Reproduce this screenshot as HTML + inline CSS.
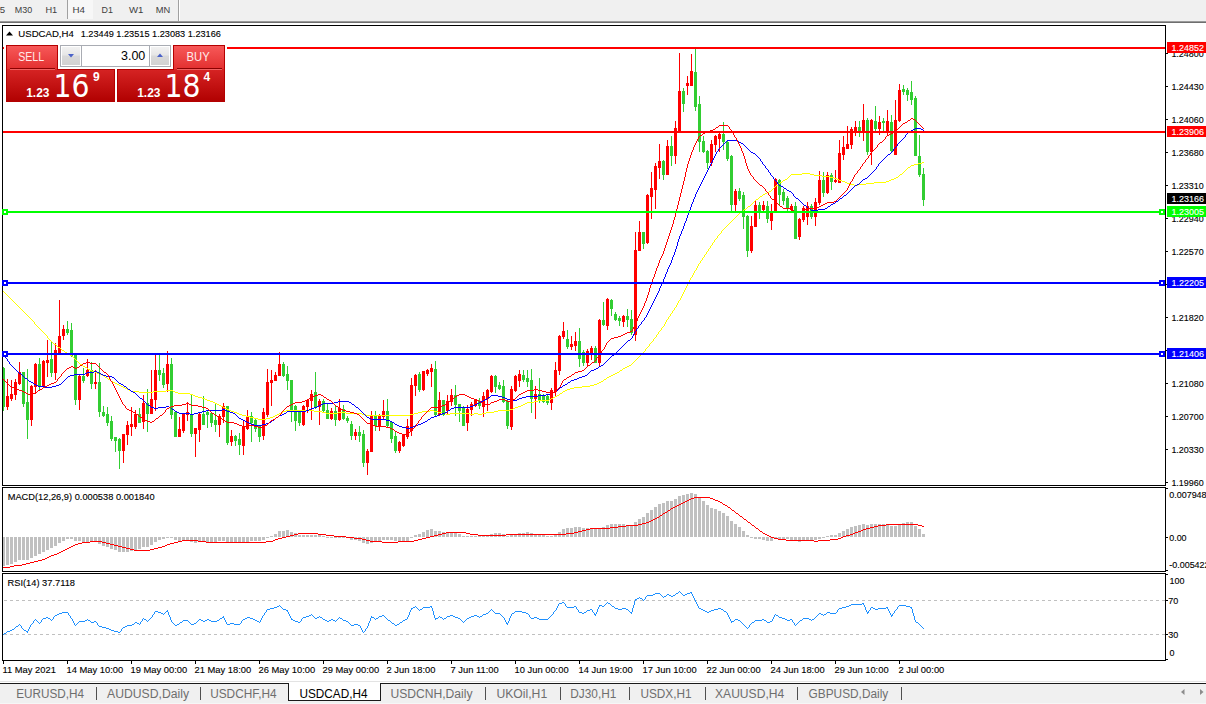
<!DOCTYPE html>
<html><head><meta charset="utf-8"><style>
html,body{margin:0;padding:0}
body{width:1206px;height:704px;overflow:hidden;position:relative;background:#fff;font-family:"Liberation Sans",Arial,sans-serif}
#tb{position:absolute;left:0;top:0;width:1206px;height:21px;background:#f0f0f0}
#tabs{position:absolute;left:0;top:684px;width:1206px;height:20px;background:#f0f0f0}
svg{position:absolute;left:0;top:0}
.ct text{font-size:9.6px;fill:#000;stroke:#000;stroke-width:0.12px}
</style></head><body>
<div id="tb"></div>
<div id="tabs"></div>
<svg width="1206" height="704" viewBox="0 0 1206 704">
<rect x="0" y="21" width="1206" height="1" fill="#9a9a9a"/>
<rect x="0" y="22" width="1206" height="1" fill="#6e6e6e"/>
<rect x="67" y="0" width="1" height="19" fill="#a0a0a0"/>
<rect x="178" y="0" width="1" height="21" fill="#a0a0a0"/>
<rect x="179" y="0" width="1" height="21" fill="#ffffff"/>
<g shape-rendering="crispEdges">
<defs><clipPath id="cm"><rect x="3" y="26" width="1162" height="459"/></clipPath><clipPath id="cd"><rect x="3" y="488" width="1162" height="83"/></clipPath><clipPath id="cr"><rect x="3" y="574" width="1162" height="86"/></clipPath></defs>
<rect x="2.5" y="25.5" width="1163" height="460" fill="none" stroke="#000"/>
<rect x="2.5" y="487.5" width="1163" height="84" fill="none" stroke="#000"/>
<rect x="2.5" y="573.5" width="1163" height="87" fill="none" stroke="#000"/>
<g clip-path="url(#cm)">
<rect x="3" y="367" width="1" height="44" fill="#32cd32"/>
<rect x="2" y="368" width="3" height="39" fill="#32cd32"/>
<rect x="7" y="379" width="1" height="31" fill="#ff0000"/>
<rect x="6" y="396" width="3" height="11" fill="#ff0000"/>
<rect x="11" y="380" width="1" height="21" fill="#ff0000"/>
<rect x="10" y="394" width="3" height="5" fill="#ff0000"/>
<rect x="15" y="379" width="1" height="21" fill="#ff0000"/>
<rect x="14" y="382" width="3" height="13" fill="#ff0000"/>
<rect x="19" y="362" width="1" height="23" fill="#ff0000"/>
<rect x="18" y="372" width="3" height="12" fill="#ff0000"/>
<rect x="23" y="372" width="1" height="35" fill="#32cd32"/>
<rect x="22" y="372" width="3" height="32" fill="#32cd32"/>
<rect x="27" y="369" width="1" height="70" fill="#32cd32"/>
<rect x="26" y="402" width="3" height="18" fill="#32cd32"/>
<rect x="31" y="385" width="1" height="41" fill="#ff0000"/>
<rect x="30" y="386" width="3" height="34" fill="#ff0000"/>
<rect x="35" y="363" width="1" height="31" fill="#ff0000"/>
<rect x="34" y="364" width="3" height="23" fill="#ff0000"/>
<rect x="39" y="358" width="1" height="32" fill="#32cd32"/>
<rect x="38" y="364" width="3" height="23" fill="#32cd32"/>
<rect x="43" y="360" width="1" height="27" fill="#ff0000"/>
<rect x="42" y="361" width="3" height="25" fill="#ff0000"/>
<rect x="47" y="340" width="1" height="37" fill="#ff0000"/>
<rect x="46" y="360" width="3" height="3" fill="#ff0000"/>
<rect x="51" y="342" width="1" height="35" fill="#32cd32"/>
<rect x="50" y="359" width="3" height="14" fill="#32cd32"/>
<rect x="55" y="343" width="1" height="37" fill="#ff0000"/>
<rect x="54" y="350" width="3" height="23" fill="#ff0000"/>
<rect x="59" y="300" width="1" height="55" fill="#ff0000"/>
<rect x="58" y="336" width="3" height="17" fill="#ff0000"/>
<rect x="63" y="325" width="1" height="15" fill="#ff0000"/>
<rect x="62" y="329" width="3" height="7" fill="#ff0000"/>
<rect x="67" y="321" width="1" height="14" fill="#32cd32"/>
<rect x="66" y="329" width="3" height="4" fill="#32cd32"/>
<rect x="71" y="323" width="1" height="34" fill="#32cd32"/>
<rect x="70" y="330" width="3" height="26" fill="#32cd32"/>
<rect x="75" y="354" width="1" height="51" fill="#32cd32"/>
<rect x="74" y="355" width="3" height="45" fill="#32cd32"/>
<rect x="79" y="374" width="1" height="36" fill="#ff0000"/>
<rect x="78" y="376" width="3" height="24" fill="#ff0000"/>
<rect x="83" y="368" width="1" height="15" fill="#32cd32"/>
<rect x="82" y="376" width="3" height="5" fill="#32cd32"/>
<rect x="87" y="359" width="1" height="18" fill="#ff0000"/>
<rect x="86" y="370" width="3" height="6" fill="#ff0000"/>
<rect x="91" y="362" width="1" height="27" fill="#32cd32"/>
<rect x="90" y="370" width="3" height="14" fill="#32cd32"/>
<rect x="95" y="370" width="1" height="19" fill="#ff0000"/>
<rect x="94" y="382" width="3" height="2" fill="#ff0000"/>
<rect x="99" y="363" width="1" height="54" fill="#32cd32"/>
<rect x="98" y="382" width="3" height="30" fill="#32cd32"/>
<rect x="103" y="406" width="1" height="11" fill="#32cd32"/>
<rect x="102" y="412" width="3" height="4" fill="#32cd32"/>
<rect x="107" y="407" width="1" height="19" fill="#32cd32"/>
<rect x="106" y="414" width="3" height="9" fill="#32cd32"/>
<rect x="111" y="416" width="1" height="25" fill="#32cd32"/>
<rect x="110" y="421" width="3" height="18" fill="#32cd32"/>
<rect x="115" y="437" width="1" height="15" fill="#32cd32"/>
<rect x="114" y="437" width="3" height="4" fill="#32cd32"/>
<rect x="119" y="438" width="1" height="31" fill="#32cd32"/>
<rect x="118" y="439" width="3" height="12" fill="#32cd32"/>
<rect x="123" y="434" width="1" height="29" fill="#ff0000"/>
<rect x="122" y="434" width="3" height="17" fill="#ff0000"/>
<rect x="127" y="421" width="1" height="24" fill="#ff0000"/>
<rect x="126" y="425" width="3" height="10" fill="#ff0000"/>
<rect x="131" y="407" width="1" height="29" fill="#ff0000"/>
<rect x="130" y="424" width="3" height="3" fill="#ff0000"/>
<rect x="135" y="410" width="1" height="19" fill="#ff0000"/>
<rect x="134" y="414" width="3" height="13" fill="#ff0000"/>
<rect x="139" y="408" width="1" height="15" fill="#32cd32"/>
<rect x="138" y="414" width="3" height="9" fill="#32cd32"/>
<rect x="143" y="395" width="1" height="34" fill="#ff0000"/>
<rect x="142" y="403" width="3" height="19" fill="#ff0000"/>
<rect x="147" y="389" width="1" height="43" fill="#32cd32"/>
<rect x="146" y="403" width="3" height="11" fill="#32cd32"/>
<rect x="151" y="370" width="1" height="44" fill="#ff0000"/>
<rect x="150" y="399" width="3" height="15" fill="#ff0000"/>
<rect x="155" y="353" width="1" height="58" fill="#ff0000"/>
<rect x="154" y="370" width="3" height="30" fill="#ff0000"/>
<rect x="159" y="355" width="1" height="26" fill="#32cd32"/>
<rect x="158" y="370" width="3" height="5" fill="#32cd32"/>
<rect x="163" y="368" width="1" height="20" fill="#32cd32"/>
<rect x="162" y="373" width="3" height="12" fill="#32cd32"/>
<rect x="167" y="351" width="1" height="41" fill="#ff0000"/>
<rect x="166" y="364" width="3" height="20" fill="#ff0000"/>
<rect x="171" y="358" width="1" height="61" fill="#32cd32"/>
<rect x="170" y="364" width="3" height="51" fill="#32cd32"/>
<rect x="175" y="412" width="1" height="25" fill="#32cd32"/>
<rect x="174" y="412" width="3" height="25" fill="#32cd32"/>
<rect x="179" y="417" width="1" height="20" fill="#ff0000"/>
<rect x="178" y="429" width="3" height="8" fill="#ff0000"/>
<rect x="183" y="414" width="1" height="19" fill="#ff0000"/>
<rect x="182" y="414" width="3" height="17" fill="#ff0000"/>
<rect x="187" y="402" width="1" height="19" fill="#ff0000"/>
<rect x="186" y="412" width="3" height="3" fill="#ff0000"/>
<rect x="191" y="395" width="1" height="42" fill="#32cd32"/>
<rect x="190" y="414" width="3" height="20" fill="#32cd32"/>
<rect x="195" y="428" width="1" height="29" fill="#ff0000"/>
<rect x="194" y="428" width="3" height="6" fill="#ff0000"/>
<rect x="199" y="412" width="1" height="30" fill="#ff0000"/>
<rect x="198" y="414" width="3" height="16" fill="#ff0000"/>
<rect x="203" y="396" width="1" height="29" fill="#32cd32"/>
<rect x="202" y="414" width="3" height="11" fill="#32cd32"/>
<rect x="207" y="410" width="1" height="18" fill="#32cd32"/>
<rect x="206" y="412" width="3" height="3" fill="#32cd32"/>
<rect x="211" y="413" width="1" height="14" fill="#32cd32"/>
<rect x="210" y="413" width="3" height="10" fill="#32cd32"/>
<rect x="215" y="404" width="1" height="28" fill="#32cd32"/>
<rect x="214" y="420" width="3" height="5" fill="#32cd32"/>
<rect x="219" y="414" width="1" height="23" fill="#ff0000"/>
<rect x="218" y="416" width="3" height="9" fill="#ff0000"/>
<rect x="223" y="403" width="1" height="20" fill="#ff0000"/>
<rect x="222" y="406" width="3" height="11" fill="#ff0000"/>
<rect x="227" y="406" width="1" height="39" fill="#32cd32"/>
<rect x="226" y="406" width="3" height="37" fill="#32cd32"/>
<rect x="231" y="430" width="1" height="16" fill="#ff0000"/>
<rect x="230" y="436" width="3" height="6" fill="#ff0000"/>
<rect x="235" y="435" width="1" height="11" fill="#32cd32"/>
<rect x="234" y="436" width="3" height="5" fill="#32cd32"/>
<rect x="239" y="433" width="1" height="22" fill="#32cd32"/>
<rect x="238" y="439" width="3" height="6" fill="#32cd32"/>
<rect x="243" y="421" width="1" height="34" fill="#ff0000"/>
<rect x="242" y="426" width="3" height="20" fill="#ff0000"/>
<rect x="247" y="410" width="1" height="20" fill="#ff0000"/>
<rect x="246" y="416" width="3" height="13" fill="#ff0000"/>
<rect x="251" y="412" width="1" height="30" fill="#32cd32"/>
<rect x="250" y="416" width="3" height="7" fill="#32cd32"/>
<rect x="255" y="418" width="1" height="14" fill="#32cd32"/>
<rect x="254" y="420" width="3" height="9" fill="#32cd32"/>
<rect x="259" y="425" width="1" height="17" fill="#32cd32"/>
<rect x="258" y="426" width="3" height="11" fill="#32cd32"/>
<rect x="263" y="408" width="1" height="32" fill="#ff0000"/>
<rect x="262" y="412" width="3" height="24" fill="#ff0000"/>
<rect x="267" y="369" width="1" height="48" fill="#ff0000"/>
<rect x="266" y="382" width="3" height="33" fill="#ff0000"/>
<rect x="271" y="370" width="1" height="36" fill="#ff0000"/>
<rect x="270" y="380" width="3" height="3" fill="#ff0000"/>
<rect x="275" y="372" width="1" height="9" fill="#ff0000"/>
<rect x="274" y="375" width="3" height="6" fill="#ff0000"/>
<rect x="279" y="352" width="1" height="24" fill="#ff0000"/>
<rect x="278" y="364" width="3" height="12" fill="#ff0000"/>
<rect x="283" y="362" width="1" height="15" fill="#32cd32"/>
<rect x="282" y="364" width="3" height="12" fill="#32cd32"/>
<rect x="287" y="366" width="1" height="24" fill="#32cd32"/>
<rect x="286" y="374" width="3" height="7" fill="#32cd32"/>
<rect x="291" y="380" width="1" height="42" fill="#32cd32"/>
<rect x="290" y="380" width="3" height="31" fill="#32cd32"/>
<rect x="295" y="405" width="1" height="26" fill="#32cd32"/>
<rect x="294" y="406" width="3" height="15" fill="#32cd32"/>
<rect x="299" y="410" width="1" height="16" fill="#32cd32"/>
<rect x="298" y="411" width="3" height="12" fill="#32cd32"/>
<rect x="303" y="405" width="1" height="21" fill="#ff0000"/>
<rect x="302" y="406" width="3" height="19" fill="#ff0000"/>
<rect x="307" y="399" width="1" height="14" fill="#ff0000"/>
<rect x="306" y="400" width="3" height="7" fill="#ff0000"/>
<rect x="311" y="390" width="1" height="30" fill="#ff0000"/>
<rect x="310" y="394" width="3" height="7" fill="#ff0000"/>
<rect x="315" y="372" width="1" height="37" fill="#32cd32"/>
<rect x="314" y="392" width="3" height="15" fill="#32cd32"/>
<rect x="319" y="399" width="1" height="26" fill="#ff0000"/>
<rect x="318" y="401" width="3" height="6" fill="#ff0000"/>
<rect x="323" y="399" width="1" height="14" fill="#32cd32"/>
<rect x="322" y="401" width="3" height="10" fill="#32cd32"/>
<rect x="327" y="404" width="1" height="15" fill="#32cd32"/>
<rect x="326" y="410" width="3" height="9" fill="#32cd32"/>
<rect x="331" y="408" width="1" height="12" fill="#ff0000"/>
<rect x="330" y="411" width="3" height="8" fill="#ff0000"/>
<rect x="335" y="406" width="1" height="20" fill="#32cd32"/>
<rect x="334" y="411" width="3" height="9" fill="#32cd32"/>
<rect x="339" y="399" width="1" height="22" fill="#ff0000"/>
<rect x="338" y="408" width="3" height="12" fill="#ff0000"/>
<rect x="343" y="405" width="1" height="15" fill="#32cd32"/>
<rect x="342" y="409" width="3" height="10" fill="#32cd32"/>
<rect x="347" y="416" width="1" height="7" fill="#32cd32"/>
<rect x="346" y="418" width="3" height="3" fill="#32cd32"/>
<rect x="351" y="421" width="1" height="19" fill="#32cd32"/>
<rect x="350" y="424" width="3" height="12" fill="#32cd32"/>
<rect x="355" y="429" width="1" height="11" fill="#ff0000"/>
<rect x="354" y="432" width="3" height="4" fill="#ff0000"/>
<rect x="359" y="426" width="1" height="16" fill="#32cd32"/>
<rect x="358" y="432" width="3" height="4" fill="#32cd32"/>
<rect x="363" y="430" width="1" height="37" fill="#32cd32"/>
<rect x="362" y="434" width="3" height="29" fill="#32cd32"/>
<rect x="367" y="449" width="1" height="26" fill="#ff0000"/>
<rect x="366" y="451" width="3" height="12" fill="#ff0000"/>
<rect x="371" y="411" width="1" height="41" fill="#ff0000"/>
<rect x="370" y="415" width="3" height="37" fill="#ff0000"/>
<rect x="375" y="411" width="1" height="20" fill="#32cd32"/>
<rect x="374" y="416" width="3" height="10" fill="#32cd32"/>
<rect x="379" y="414" width="1" height="17" fill="#ff0000"/>
<rect x="378" y="416" width="3" height="11" fill="#ff0000"/>
<rect x="383" y="400" width="1" height="19" fill="#ff0000"/>
<rect x="382" y="411" width="3" height="6" fill="#ff0000"/>
<rect x="387" y="399" width="1" height="28" fill="#32cd32"/>
<rect x="386" y="411" width="3" height="15" fill="#32cd32"/>
<rect x="391" y="421" width="1" height="22" fill="#32cd32"/>
<rect x="390" y="422" width="3" height="17" fill="#32cd32"/>
<rect x="395" y="432" width="1" height="21" fill="#32cd32"/>
<rect x="394" y="436" width="3" height="15" fill="#32cd32"/>
<rect x="399" y="441" width="1" height="12" fill="#ff0000"/>
<rect x="398" y="442" width="3" height="9" fill="#ff0000"/>
<rect x="403" y="434" width="1" height="13" fill="#ff0000"/>
<rect x="402" y="435" width="3" height="11" fill="#ff0000"/>
<rect x="407" y="419" width="1" height="20" fill="#ff0000"/>
<rect x="406" y="426" width="3" height="11" fill="#ff0000"/>
<rect x="411" y="378" width="1" height="58" fill="#ff0000"/>
<rect x="410" y="385" width="3" height="46" fill="#ff0000"/>
<rect x="415" y="374" width="1" height="22" fill="#ff0000"/>
<rect x="414" y="375" width="3" height="11" fill="#ff0000"/>
<rect x="419" y="372" width="1" height="20" fill="#32cd32"/>
<rect x="418" y="374" width="3" height="16" fill="#32cd32"/>
<rect x="423" y="371" width="1" height="20" fill="#ff0000"/>
<rect x="422" y="371" width="3" height="19" fill="#ff0000"/>
<rect x="427" y="369" width="1" height="7" fill="#ff0000"/>
<rect x="426" y="370" width="3" height="4" fill="#ff0000"/>
<rect x="431" y="364" width="1" height="23" fill="#ff0000"/>
<rect x="430" y="368" width="3" height="4" fill="#ff0000"/>
<rect x="435" y="361" width="1" height="55" fill="#32cd32"/>
<rect x="434" y="369" width="3" height="46" fill="#32cd32"/>
<rect x="439" y="392" width="1" height="24" fill="#ff0000"/>
<rect x="438" y="400" width="3" height="15" fill="#ff0000"/>
<rect x="443" y="400" width="1" height="16" fill="#32cd32"/>
<rect x="442" y="400" width="3" height="15" fill="#32cd32"/>
<rect x="447" y="395" width="1" height="20" fill="#ff0000"/>
<rect x="446" y="401" width="3" height="10" fill="#ff0000"/>
<rect x="451" y="389" width="1" height="17" fill="#ff0000"/>
<rect x="450" y="395" width="3" height="7" fill="#ff0000"/>
<rect x="455" y="385" width="1" height="31" fill="#32cd32"/>
<rect x="454" y="395" width="3" height="10" fill="#32cd32"/>
<rect x="459" y="404" width="1" height="18" fill="#32cd32"/>
<rect x="458" y="404" width="3" height="7" fill="#32cd32"/>
<rect x="463" y="406" width="1" height="20" fill="#32cd32"/>
<rect x="462" y="408" width="3" height="18" fill="#32cd32"/>
<rect x="467" y="405" width="1" height="26" fill="#ff0000"/>
<rect x="466" y="409" width="3" height="14" fill="#ff0000"/>
<rect x="471" y="402" width="1" height="14" fill="#ff0000"/>
<rect x="470" y="404" width="3" height="6" fill="#ff0000"/>
<rect x="475" y="399" width="1" height="8" fill="#ff0000"/>
<rect x="474" y="400" width="3" height="6" fill="#ff0000"/>
<rect x="479" y="398" width="1" height="11" fill="#32cd32"/>
<rect x="478" y="401" width="3" height="5" fill="#32cd32"/>
<rect x="483" y="392" width="1" height="25" fill="#ff0000"/>
<rect x="482" y="396" width="3" height="11" fill="#ff0000"/>
<rect x="487" y="389" width="1" height="22" fill="#ff0000"/>
<rect x="486" y="390" width="3" height="9" fill="#ff0000"/>
<rect x="491" y="375" width="1" height="18" fill="#ff0000"/>
<rect x="490" y="376" width="3" height="16" fill="#ff0000"/>
<rect x="495" y="375" width="1" height="18" fill="#32cd32"/>
<rect x="494" y="376" width="3" height="11" fill="#32cd32"/>
<rect x="499" y="382" width="1" height="8" fill="#32cd32"/>
<rect x="498" y="385" width="3" height="4" fill="#32cd32"/>
<rect x="503" y="380" width="1" height="23" fill="#32cd32"/>
<rect x="502" y="386" width="3" height="16" fill="#32cd32"/>
<rect x="507" y="400" width="1" height="29" fill="#32cd32"/>
<rect x="506" y="401" width="3" height="25" fill="#32cd32"/>
<rect x="511" y="386" width="1" height="44" fill="#ff0000"/>
<rect x="510" y="389" width="3" height="38" fill="#ff0000"/>
<rect x="515" y="375" width="1" height="17" fill="#ff0000"/>
<rect x="514" y="376" width="3" height="15" fill="#ff0000"/>
<rect x="519" y="370" width="1" height="17" fill="#ff0000"/>
<rect x="518" y="374" width="3" height="7" fill="#ff0000"/>
<rect x="523" y="370" width="1" height="12" fill="#32cd32"/>
<rect x="522" y="375" width="3" height="5" fill="#32cd32"/>
<rect x="527" y="370" width="1" height="17" fill="#32cd32"/>
<rect x="526" y="378" width="3" height="4" fill="#32cd32"/>
<rect x="531" y="369" width="1" height="44" fill="#32cd32"/>
<rect x="530" y="380" width="3" height="19" fill="#32cd32"/>
<rect x="535" y="386" width="1" height="33" fill="#ff0000"/>
<rect x="534" y="394" width="3" height="5" fill="#ff0000"/>
<rect x="539" y="378" width="1" height="25" fill="#32cd32"/>
<rect x="538" y="394" width="3" height="7" fill="#32cd32"/>
<rect x="543" y="394" width="1" height="9" fill="#32cd32"/>
<rect x="542" y="395" width="3" height="7" fill="#32cd32"/>
<rect x="547" y="395" width="1" height="10" fill="#32cd32"/>
<rect x="546" y="396" width="3" height="7" fill="#32cd32"/>
<rect x="551" y="388" width="1" height="22" fill="#ff0000"/>
<rect x="550" y="390" width="3" height="13" fill="#ff0000"/>
<rect x="555" y="362" width="1" height="34" fill="#ff0000"/>
<rect x="554" y="370" width="3" height="22" fill="#ff0000"/>
<rect x="559" y="335" width="1" height="40" fill="#ff0000"/>
<rect x="558" y="336" width="3" height="35" fill="#ff0000"/>
<rect x="563" y="322" width="1" height="17" fill="#ff0000"/>
<rect x="562" y="331" width="3" height="6" fill="#ff0000"/>
<rect x="567" y="330" width="1" height="19" fill="#32cd32"/>
<rect x="566" y="339" width="3" height="8" fill="#32cd32"/>
<rect x="571" y="336" width="1" height="14" fill="#ff0000"/>
<rect x="570" y="344" width="3" height="3" fill="#ff0000"/>
<rect x="575" y="332" width="1" height="19" fill="#ff0000"/>
<rect x="574" y="341" width="3" height="5" fill="#ff0000"/>
<rect x="579" y="328" width="1" height="39" fill="#32cd32"/>
<rect x="578" y="341" width="3" height="18" fill="#32cd32"/>
<rect x="583" y="350" width="1" height="16" fill="#32cd32"/>
<rect x="582" y="352" width="3" height="11" fill="#32cd32"/>
<rect x="587" y="349" width="1" height="17" fill="#ff0000"/>
<rect x="586" y="351" width="3" height="12" fill="#ff0000"/>
<rect x="591" y="346" width="1" height="14" fill="#ff0000"/>
<rect x="590" y="348" width="3" height="5" fill="#ff0000"/>
<rect x="595" y="346" width="1" height="17" fill="#32cd32"/>
<rect x="594" y="348" width="3" height="15" fill="#32cd32"/>
<rect x="599" y="319" width="1" height="47" fill="#ff0000"/>
<rect x="598" y="320" width="3" height="43" fill="#ff0000"/>
<rect x="603" y="302" width="1" height="24" fill="#32cd32"/>
<rect x="602" y="320" width="3" height="5" fill="#32cd32"/>
<rect x="607" y="298" width="1" height="32" fill="#ff0000"/>
<rect x="606" y="299" width="3" height="27" fill="#ff0000"/>
<rect x="611" y="299" width="1" height="17" fill="#32cd32"/>
<rect x="610" y="300" width="3" height="9" fill="#32cd32"/>
<rect x="615" y="312" width="1" height="9" fill="#32cd32"/>
<rect x="614" y="314" width="3" height="6" fill="#32cd32"/>
<rect x="619" y="316" width="1" height="10" fill="#32cd32"/>
<rect x="618" y="318" width="3" height="3" fill="#32cd32"/>
<rect x="623" y="315" width="1" height="12" fill="#ff0000"/>
<rect x="622" y="316" width="3" height="6" fill="#ff0000"/>
<rect x="627" y="309" width="1" height="18" fill="#32cd32"/>
<rect x="626" y="316" width="3" height="4" fill="#32cd32"/>
<rect x="631" y="310" width="1" height="25" fill="#32cd32"/>
<rect x="630" y="319" width="3" height="14" fill="#32cd32"/>
<rect x="635" y="232" width="1" height="109" fill="#ff0000"/>
<rect x="634" y="250" width="3" height="85" fill="#ff0000"/>
<rect x="639" y="221" width="1" height="30" fill="#ff0000"/>
<rect x="638" y="232" width="3" height="19" fill="#ff0000"/>
<rect x="643" y="232" width="1" height="17" fill="#32cd32"/>
<rect x="642" y="232" width="3" height="12" fill="#32cd32"/>
<rect x="647" y="194" width="1" height="50" fill="#ff0000"/>
<rect x="646" y="195" width="3" height="48" fill="#ff0000"/>
<rect x="651" y="172" width="1" height="47" fill="#ff0000"/>
<rect x="650" y="188" width="3" height="9" fill="#ff0000"/>
<rect x="655" y="163" width="1" height="46" fill="#ff0000"/>
<rect x="654" y="166" width="3" height="24" fill="#ff0000"/>
<rect x="659" y="144" width="1" height="35" fill="#ff0000"/>
<rect x="658" y="161" width="3" height="7" fill="#ff0000"/>
<rect x="663" y="160" width="1" height="20" fill="#32cd32"/>
<rect x="662" y="161" width="3" height="14" fill="#32cd32"/>
<rect x="667" y="140" width="1" height="35" fill="#ff0000"/>
<rect x="666" y="146" width="3" height="29" fill="#ff0000"/>
<rect x="671" y="136" width="1" height="30" fill="#32cd32"/>
<rect x="670" y="146" width="3" height="10" fill="#32cd32"/>
<rect x="675" y="121" width="1" height="43" fill="#ff0000"/>
<rect x="674" y="128" width="3" height="28" fill="#ff0000"/>
<rect x="679" y="53" width="1" height="78" fill="#ff0000"/>
<rect x="678" y="91" width="3" height="40" fill="#ff0000"/>
<rect x="683" y="88" width="1" height="24" fill="#32cd32"/>
<rect x="682" y="91" width="3" height="13" fill="#32cd32"/>
<rect x="687" y="76" width="1" height="19" fill="#ff0000"/>
<rect x="686" y="83" width="3" height="3" fill="#ff0000"/>
<rect x="691" y="54" width="1" height="32" fill="#ff0000"/>
<rect x="690" y="71" width="3" height="15" fill="#ff0000"/>
<rect x="695" y="48" width="1" height="63" fill="#32cd32"/>
<rect x="694" y="72" width="3" height="35" fill="#32cd32"/>
<rect x="699" y="96" width="1" height="56" fill="#32cd32"/>
<rect x="698" y="104" width="3" height="38" fill="#32cd32"/>
<rect x="703" y="136" width="1" height="17" fill="#32cd32"/>
<rect x="702" y="141" width="3" height="11" fill="#32cd32"/>
<rect x="707" y="150" width="1" height="19" fill="#32cd32"/>
<rect x="706" y="151" width="3" height="12" fill="#32cd32"/>
<rect x="711" y="140" width="1" height="26" fill="#ff0000"/>
<rect x="710" y="144" width="3" height="19" fill="#ff0000"/>
<rect x="715" y="135" width="1" height="17" fill="#ff0000"/>
<rect x="714" y="136" width="3" height="9" fill="#ff0000"/>
<rect x="719" y="132" width="1" height="20" fill="#ff0000"/>
<rect x="718" y="134" width="3" height="5" fill="#ff0000"/>
<rect x="723" y="122" width="1" height="28" fill="#32cd32"/>
<rect x="722" y="134" width="3" height="8" fill="#32cd32"/>
<rect x="727" y="140" width="1" height="21" fill="#32cd32"/>
<rect x="726" y="142" width="3" height="17" fill="#32cd32"/>
<rect x="731" y="155" width="1" height="58" fill="#32cd32"/>
<rect x="730" y="156" width="3" height="49" fill="#32cd32"/>
<rect x="735" y="189" width="1" height="24" fill="#ff0000"/>
<rect x="734" y="191" width="3" height="14" fill="#ff0000"/>
<rect x="739" y="188" width="1" height="13" fill="#32cd32"/>
<rect x="738" y="191" width="3" height="8" fill="#32cd32"/>
<rect x="743" y="192" width="1" height="37" fill="#32cd32"/>
<rect x="742" y="195" width="3" height="22" fill="#32cd32"/>
<rect x="747" y="215" width="1" height="42" fill="#32cd32"/>
<rect x="746" y="216" width="3" height="35" fill="#32cd32"/>
<rect x="751" y="216" width="1" height="37" fill="#ff0000"/>
<rect x="750" y="226" width="3" height="25" fill="#ff0000"/>
<rect x="755" y="200" width="1" height="27" fill="#ff0000"/>
<rect x="754" y="205" width="3" height="22" fill="#ff0000"/>
<rect x="759" y="202" width="1" height="17" fill="#32cd32"/>
<rect x="758" y="205" width="3" height="6" fill="#32cd32"/>
<rect x="763" y="201" width="1" height="11" fill="#ff0000"/>
<rect x="762" y="205" width="3" height="5" fill="#ff0000"/>
<rect x="767" y="201" width="1" height="22" fill="#32cd32"/>
<rect x="766" y="206" width="3" height="13" fill="#32cd32"/>
<rect x="771" y="204" width="1" height="26" fill="#ff0000"/>
<rect x="770" y="212" width="3" height="9" fill="#ff0000"/>
<rect x="775" y="178" width="1" height="35" fill="#ff0000"/>
<rect x="774" y="179" width="3" height="34" fill="#ff0000"/>
<rect x="779" y="179" width="1" height="27" fill="#32cd32"/>
<rect x="778" y="180" width="3" height="15" fill="#32cd32"/>
<rect x="783" y="189" width="1" height="16" fill="#32cd32"/>
<rect x="782" y="192" width="3" height="9" fill="#32cd32"/>
<rect x="787" y="196" width="1" height="15" fill="#32cd32"/>
<rect x="786" y="198" width="3" height="11" fill="#32cd32"/>
<rect x="791" y="204" width="1" height="7" fill="#ff0000"/>
<rect x="790" y="206" width="3" height="4" fill="#ff0000"/>
<rect x="795" y="202" width="1" height="37" fill="#32cd32"/>
<rect x="794" y="206" width="3" height="33" fill="#32cd32"/>
<rect x="799" y="218" width="1" height="22" fill="#ff0000"/>
<rect x="798" y="219" width="3" height="18" fill="#ff0000"/>
<rect x="803" y="206" width="1" height="16" fill="#ff0000"/>
<rect x="802" y="208" width="3" height="12" fill="#ff0000"/>
<rect x="807" y="202" width="1" height="23" fill="#ff0000"/>
<rect x="806" y="206" width="3" height="11" fill="#ff0000"/>
<rect x="811" y="204" width="1" height="15" fill="#32cd32"/>
<rect x="810" y="206" width="3" height="11" fill="#32cd32"/>
<rect x="815" y="198" width="1" height="28" fill="#ff0000"/>
<rect x="814" y="202" width="3" height="15" fill="#ff0000"/>
<rect x="819" y="171" width="1" height="34" fill="#ff0000"/>
<rect x="818" y="180" width="3" height="23" fill="#ff0000"/>
<rect x="823" y="172" width="1" height="25" fill="#32cd32"/>
<rect x="822" y="180" width="3" height="13" fill="#32cd32"/>
<rect x="827" y="172" width="1" height="22" fill="#ff0000"/>
<rect x="826" y="175" width="3" height="18" fill="#ff0000"/>
<rect x="831" y="173" width="1" height="17" fill="#32cd32"/>
<rect x="830" y="175" width="3" height="7" fill="#32cd32"/>
<rect x="835" y="170" width="1" height="13" fill="#ff0000"/>
<rect x="834" y="180" width="3" height="2" fill="#ff0000"/>
<rect x="839" y="140" width="1" height="43" fill="#ff0000"/>
<rect x="838" y="153" width="3" height="30" fill="#ff0000"/>
<rect x="843" y="136" width="1" height="24" fill="#ff0000"/>
<rect x="842" y="147" width="3" height="8" fill="#ff0000"/>
<rect x="847" y="126" width="1" height="23" fill="#ff0000"/>
<rect x="846" y="144" width="3" height="5" fill="#ff0000"/>
<rect x="851" y="127" width="1" height="22" fill="#ff0000"/>
<rect x="850" y="129" width="3" height="16" fill="#ff0000"/>
<rect x="855" y="121" width="1" height="15" fill="#ff0000"/>
<rect x="854" y="127" width="3" height="4" fill="#ff0000"/>
<rect x="859" y="121" width="1" height="16" fill="#32cd32"/>
<rect x="858" y="127" width="3" height="4" fill="#32cd32"/>
<rect x="863" y="104" width="1" height="37" fill="#ff0000"/>
<rect x="862" y="120" width="3" height="13" fill="#ff0000"/>
<rect x="867" y="118" width="1" height="37" fill="#32cd32"/>
<rect x="866" y="120" width="3" height="32" fill="#32cd32"/>
<rect x="871" y="119" width="1" height="46" fill="#ff0000"/>
<rect x="870" y="120" width="3" height="32" fill="#ff0000"/>
<rect x="875" y="106" width="1" height="26" fill="#32cd32"/>
<rect x="874" y="121" width="3" height="8" fill="#32cd32"/>
<rect x="879" y="116" width="1" height="19" fill="#ff0000"/>
<rect x="878" y="122" width="3" height="7" fill="#ff0000"/>
<rect x="883" y="118" width="1" height="13" fill="#32cd32"/>
<rect x="882" y="121" width="3" height="2" fill="#32cd32"/>
<rect x="887" y="110" width="1" height="26" fill="#ff0000"/>
<rect x="886" y="121" width="3" height="12" fill="#ff0000"/>
<rect x="891" y="115" width="1" height="38" fill="#32cd32"/>
<rect x="890" y="122" width="3" height="29" fill="#32cd32"/>
<rect x="895" y="100" width="1" height="55" fill="#ff0000"/>
<rect x="894" y="120" width="3" height="35" fill="#ff0000"/>
<rect x="899" y="84" width="1" height="38" fill="#ff0000"/>
<rect x="898" y="90" width="3" height="31" fill="#ff0000"/>
<rect x="903" y="85" width="1" height="10" fill="#32cd32"/>
<rect x="902" y="89" width="3" height="3" fill="#32cd32"/>
<rect x="907" y="88" width="1" height="13" fill="#32cd32"/>
<rect x="906" y="90" width="3" height="5" fill="#32cd32"/>
<rect x="911" y="81" width="1" height="24" fill="#32cd32"/>
<rect x="910" y="92" width="3" height="8" fill="#32cd32"/>
<rect x="915" y="96" width="1" height="60" fill="#32cd32"/>
<rect x="914" y="98" width="3" height="58" fill="#32cd32"/>
<rect x="919" y="135" width="1" height="42" fill="#32cd32"/>
<rect x="918" y="156" width="3" height="19" fill="#32cd32"/>
<rect x="923" y="168" width="1" height="38" fill="#32cd32"/>
<rect x="922" y="174" width="3" height="26" fill="#32cd32"/>
</g>
<path d="M2 290.5h1M3 291.5h1M4 292.5h1M5 293.5h1M6 294.5h1M7 295.5h1M8 296.5h1M9 297.5h1M10 298.5h1M10 298.5h1M11 299.5h1M12 300.5h1M13 301.5h1M14 302.5h1M15 303.5h1M16 304.5h1M17 305.5h1M17 305.5h1M18 306.5h1M19 307.5h1M20 308.5h1M21 309.5h1M22 310.5h1M23 311.5h1M24 312.5h1M25 313.5h1M26 314.5h1M26.5 314v1M27.5 315v1M28.5 316v1M29.5 317v1M30.5 318v1M31.5 319v1M32.5 320v1M33.5 321v1M34.5 322v2M35.5 324v1M36.5 325v1M37.5 326v1M38.5 327v1M39.5 328v1M40.5 329v1M41.5 330v1M42.5 331v1M42.5 331v1M43.5 332v1M44.5 333v1M45.5 334v1M46.5 335v1M47.5 336v2M48.5 338v1M49.5 339v1M50.5 340v1M51.5 341v1M52.5 342v1M52 342.5h1M53 343.5h1M54 344.5h2M56 345.5h1M57 346.5h1M58 347.5h2M60 348.5h1M61 349.5h1M61 349.5h1M62 350.5h2M64 351.5h1M65 352.5h2M67 353.5h2M69 354.5h1M70 355.5h2M72 356.5h1M72 356.5h1M73 357.5h1M74 358.5h1M75 359.5h1M76 360.5h1M77 361.5h1M78 362.5h1M79 363.5h1M79 363.5h1M80 364.5h2M82 365.5h1M83 366.5h2M85 367.5h2M87 368.5h1M88 369.5h2M90 370.5h1M90 370.5h2M92 371.5h3M95 372.5h2M97 373.5h3M100 374.5h2M101 374.5h1M102 375.5h2M104 376.5h1M105 377.5h2M107 378.5h1M108 379.5h2M110 380.5h1M110 380.5h1M111 381.5h2M113 382.5h2M115 383.5h2M117 384.5h2M119 385.5h2M121 386.5h1M121 386.5h2M123 387.5h2M125 388.5h2M127 389.5h2M129 390.5h2M131 391.5h1M131 391.5h8M139 392.5h8M146 392.5h7M153 391.5h7M159 391.5h5M163 391.5h3M166 390.5h2M167 390.5h5M171 390.5h2M173 391.5h2M175 392.5h1M175 392.5h3M178 393.5h2M179 393.5h5M183 393.5h5M187 393.5h3M190 394.5h2M191 394.5h2M193 395.5h2M195 396.5h1M195 396.5h3M198 397.5h2M199 397.5h3M202 398.5h2M203 398.5h2M205 399.5h2M207 400.5h1M207 400.5h3M210 401.5h2M211 401.5h2M213 402.5h2M215 403.5h1M215 403.5h2M217 404.5h2M219 405.5h1M219 405.5h2M221 406.5h2M223 407.5h1M223 407.5h2M225 408.5h2M227 409.5h1M227 409.5h2M229 410.5h2M231 411.5h1M231 411.5h3M234 412.5h2M235 412.5h2M237 413.5h2M239 414.5h1M239 414.5h3M242 415.5h2M243 415.5h3M246 416.5h2M247 416.5h3M250 417.5h2M251 417.5h3M254 418.5h2M255 418.5h3M258 419.5h2M259 419.5h5M263 419.5h3M266 418.5h2M267 418.5h3M270 417.5h2M271 417.5h2M273 416.5h2M275 415.5h1M275 415.5h2M277 414.5h2M279 413.5h1M279 413.5h2M281 412.5h2M283 411.5h1M283 411.5h3M286 410.5h2M287 410.5h5M291 410.5h5M295 410.5h5M299 410.5h5M303 410.5h5M307 410.5h5M311 410.5h3M314 411.5h2M315 411.5h5M319 411.5h3M322 412.5h2M323 412.5h3M326 413.5h2M327 413.5h5M331 413.5h5M335 413.5h3M338 412.5h2M339 412.5h5M343 412.5h3M346 413.5h2M347 413.5h5M351 413.5h5M355 413.5h5M359 413.5h3M362 414.5h2M363 414.5h3M366 415.5h2M367 415.5h5M371 415.5h5M375 415.5h5M379 415.5h5M383 415.5h5M387 415.5h5M391 415.5h5M395 415.5h5M399 415.5h5M403 415.5h5M407 415.5h3M410 414.5h2M411 414.5h3M414 413.5h2M415 413.5h3M418 412.5h2M419 412.5h3M422 411.5h2M423 411.5h5M427 411.5h3M430 410.5h2M431 410.5h3M434 411.5h2M435 411.5h3M438 412.5h2M439 412.5h3M442 413.5h2M443 413.5h3M446 414.5h2M447 414.5h3M450 413.5h2M451 413.5h5M455 413.5h5M459 413.5h5M463 413.5h5M467 413.5h3M470 414.5h2M471 414.5h3M474 413.5h2M475 413.5h3M478 414.5h2M479 414.5h3M482 413.5h2M483 413.5h3M486 412.5h2M487 412.5h5M491 412.5h3M494 411.5h2M495 411.5h3M498 410.5h2M499 410.5h5M503 410.5h5M507 410.5h3M510 409.5h2M511 409.5h2M513 408.5h2M515 407.5h1M515 407.5h3M518 406.5h2M519 406.5h2M521 405.5h2M523 404.5h1M523 404.5h2M525 403.5h2M527 402.5h1M527 402.5h5M531 402.5h3M534 401.5h2M535 401.5h3M538 400.5h2M539 400.5h5M543 400.5h5M547 400.5h2M549 399.5h2M551 398.5h1M551 398.5h2M553 397.5h2M555 396.5h1M555 396.5h2M557 395.5h2M559 394.5h1M559 394.5h1M560 393.5h2M562 392.5h1M563 391.5h1M563 391.5h2M565 390.5h2M567 389.5h1M567 389.5h3M570 388.5h2M571 388.5h3M574 387.5h2M575 387.5h5M579 387.5h3M582 386.5h2M583 386.5h5M587 386.5h3M590 385.5h2M591 385.5h3M594 384.5h2M595 384.5h2M597 383.5h2M599 382.5h1M599 382.5h2M601 381.5h2M603 380.5h1M603 380.5h1M604 379.5h2M606 378.5h1M607 377.5h1M607 377.5h2M609 376.5h2M611 375.5h1M611 375.5h2M613 374.5h2M615 373.5h1M615 373.5h2M617 372.5h2M619 371.5h1M619 371.5h1M620 370.5h2M622 369.5h1M623 368.5h1M623 368.5h2M625 367.5h2M627 366.5h1M627 366.5h2M629 365.5h2M631 364.5h1M631 364.5h1M632 363.5h1M633 362.5h1M634 361.5h1M635 360.5h1M635 360.5h1M636 359.5h1M637 358.5h1M638 357.5h1M639 356.5h1M639 356.5h1M640 355.5h1M641 354.5h1M642 353.5h1M643 352.5h1M643.5 352v1M644.5 351v1M645.5 349v2M646.5 348v1M647.5 347v1M647.5 347v1M648.5 346v1M649.5 344v2M650.5 343v1M651.5 342v1M651.5 342v1M652.5 341v1M653.5 339v2M654.5 338v1M655.5 337v1M655.5 337v1M656.5 335v2M657.5 334v1M658.5 332v2M659.5 331v1M659.5 331v1M660.5 330v1M661.5 328v2M662.5 327v1M663.5 326v1M663.5 326v1M664.5 324v2M665.5 322v2M666.5 320v2M667.5 319v1M667.5 319v1M668.5 317v2M669.5 316v1M670.5 314v2M671.5 313v1M671.5 313v1M672.5 311v2M673.5 310v1M674.5 308v2M675.5 307v1M675.5 307v1M676.5 305v2M677.5 303v2M678.5 301v2M679.5 300v1M679.5 300v1M680.5 298v2M681.5 296v2M682.5 294v2M683.5 293v1M683.5 292v2M684.5 290v2M685.5 288v2M686.5 286v2M687.5 285v1M687.5 284v2M688.5 282v2M689.5 280v2M690.5 278v2M691.5 277v1M691.5 277v1M692.5 275v2M693.5 273v2M694.5 271v2M695.5 270v1M695.5 270v1M696.5 268v2M697.5 266v2M698.5 264v2M699.5 263v1M699.5 263v1M700.5 261v2M701.5 260v1M702.5 258v2M703.5 257v1M703.5 257v1M704.5 255v2M705.5 254v1M706.5 252v2M707.5 251v1M707.5 251v1M708.5 249v2M709.5 248v1M710.5 246v2M711.5 245v1M711.5 245v1M712.5 243v2M713.5 242v1M714.5 240v2M715.5 239v1M715.5 239v1M716.5 238v1M717.5 236v2M718.5 235v1M719.5 234v1M719.5 234v1M720.5 233v1M721.5 231v2M722.5 230v1M723.5 229v1M723 229.5h1M724 228.5h1M725 227.5h1M726 226.5h1M727 225.5h1M727 225.5h1M728 224.5h1M729 223.5h1M730 222.5h1M731 221.5h1M731 221.5h1M732 220.5h1M733 219.5h1M734 218.5h1M735 217.5h1M735 217.5h1M736 216.5h1M737 215.5h1M738 214.5h1M739 213.5h1M739 213.5h1M740 212.5h2M742 211.5h1M743 210.5h1M743 210.5h1M744 209.5h2M746 208.5h1M747 207.5h1M747 207.5h1M748 206.5h2M750 205.5h1M751 204.5h1M751 204.5h1M752 203.5h1M753 202.5h1M754 201.5h1M755 200.5h1M755 200.5h1M756 199.5h2M758 198.5h1M759 197.5h1M759 197.5h1M760 196.5h2M762 195.5h1M763 194.5h1M763 194.5h2M765 193.5h2M767 192.5h1M767 192.5h2M769 191.5h2M771 190.5h1M771 190.5h1M772 189.5h1M773 188.5h1M774 187.5h1M775 186.5h1M775 186.5h1M776 185.5h2M778 184.5h1M779 183.5h1M779 183.5h1M780 182.5h2M782 181.5h1M783 180.5h1M783 180.5h2M785 179.5h2M787 178.5h1M787 178.5h1M788 177.5h1M789 176.5h1M790 175.5h1M791 174.5h1M791 174.5h5M795 174.5h5M799 174.5h3M802 173.5h2M803 173.5h5M807 173.5h3M810 174.5h2M811 174.5h3M814 175.5h2M815 175.5h5M819 175.5h3M822 176.5h2M823 176.5h5M827 176.5h3M830 177.5h2M831 177.5h3M834 178.5h2M835 178.5h2M837 179.5h2M839 180.5h1M839 180.5h3M842 181.5h2M843 181.5h2M845 182.5h2M847 183.5h1M847 183.5h3M850 184.5h2M851 184.5h3M854 185.5h2M855 185.5h3M858 184.5h2M859 184.5h5M863 184.5h3M866 183.5h2M867 183.5h5M871 183.5h3M874 182.5h2M875 182.5h5M879 182.5h5M883 182.5h3M886 181.5h2M887 181.5h2M889 180.5h2M891 179.5h1M891 179.5h3M894 178.5h2M895 178.5h1M896 177.5h2M898 176.5h1M899 175.5h1M899 175.5h1M900 174.5h2M902 173.5h1M903 172.5h1M903 172.5h1M904 171.5h1M905 170.5h1M906 169.5h1M907 168.5h1M907 168.5h1M908 167.5h2M910 166.5h1M911 165.5h1M911 165.5h3M914 164.5h2M915 164.5h3M918 163.5h2M919 163.5h3M922 162.5h2" fill="none" stroke="#ffff00" stroke-width="1" clip-path="url(#cm)"/>
<path d="M2 354.5h2M4 355.5h1M4.5 355v1M5.5 356v2M6.5 358v1M7.5 359v2M8.5 361v1M9.5 362v2M10.5 364v1M10 364.5h1M11 365.5h1M12 366.5h1M13 367.5h1M14 368.5h1M15 369.5h1M16 370.5h1M17 371.5h1M17 371.5h1M18 372.5h1M19 373.5h2M21 374.5h1M22 375.5h1M23 376.5h1M24 377.5h1M25 378.5h2M27 379.5h1M28 380.5h1M28 380.5h1M29 381.5h2M31 382.5h2M33 383.5h1M34 384.5h2M36 385.5h2M38 386.5h1M38 386.5h7M45 387.5h6M50 387.5h2M52 386.5h4M56 385.5h3M59 384.5h2M60 384.5h1M61 383.5h1M62 382.5h1M63 381.5h1M64 380.5h1M65 379.5h1M66 378.5h1M67 377.5h1M68 376.5h1M68 376.5h2M70 375.5h4M74 374.5h2M75 374.5h9M83 374.5h2M85 373.5h2M87 372.5h1M87 372.5h5M91 372.5h3M94 371.5h2M95 371.5h2M97 372.5h2M99 373.5h1M99 373.5h2M101 374.5h2M103 375.5h1M103 375.5h3M106 376.5h2M107 376.5h5M111 376.5h1M112 377.5h2M114 378.5h1M115 379.5h1M115 379.5h1M116 380.5h1M117 381.5h1M118 382.5h1M119 383.5h1M119 383.5h2M121 384.5h2M123 385.5h1M123 385.5h1M124 386.5h2M126 387.5h1M127 388.5h1M127 388.5h1M128 389.5h2M130 390.5h1M131 391.5h1M131 391.5h2M133 392.5h2M135 393.5h1M135 393.5h1M136 394.5h1M137 395.5h1M138 396.5h1M139 397.5h1M139 397.5h1M140 398.5h2M142 399.5h1M143 400.5h1M143 400.5h1M144 401.5h1M145 402.5h1M146 403.5h1M147 404.5h1M147 404.5h1M148 405.5h2M150 406.5h1M151 407.5h1M151 407.5h3M154 408.5h2M155 408.5h3M158 407.5h2M159 407.5h5M163 407.5h3M166 406.5h2M167 406.5h2M169 407.5h2M171 408.5h1M171 408.5h1M172 409.5h2M174 410.5h1M175 411.5h1M175 411.5h2M177 412.5h2M179 413.5h1M179 413.5h5M183 413.5h5M187 413.5h3M190 414.5h2M191 414.5h3M194 413.5h2M195 413.5h3M198 412.5h2M199 412.5h3M202 411.5h2M203 411.5h3M206 410.5h2M207 410.5h5M211 410.5h5M215 410.5h5M219 410.5h3M222 409.5h2M223 409.5h2M225 410.5h2M227 411.5h1M227 411.5h3M230 412.5h2M231 412.5h2M233 413.5h2M235 414.5h1M235 414.5h1M236 415.5h1M237 416.5h1M238 417.5h1M239 418.5h1M239 418.5h2M241 419.5h2M243 420.5h1M243 420.5h2M245 421.5h2M247 422.5h1M247 422.5h2M249 423.5h2M251 424.5h1M251 424.5h3M254 425.5h2M255 425.5h5M259 425.5h3M262 424.5h2M263 424.5h3M266 423.5h2M267 423.5h2M269 422.5h2M271 421.5h1M271 421.5h1M272 420.5h2M274 419.5h1M275 418.5h1M275 418.5h1M276 417.5h2M278 416.5h1M279 415.5h1M279 415.5h3M282 414.5h2M283 414.5h1M284 413.5h2M286 412.5h1M287 411.5h1M287 411.5h5M291 411.5h5M295 411.5h5M299 411.5h5M303 411.5h3M306 410.5h2M307 410.5h2M309 409.5h2M311 408.5h1M311 408.5h3M314 407.5h2M315 407.5h2M317 406.5h2M319 405.5h1M319 405.5h2M321 404.5h2M323 403.5h1M323 403.5h5M327 403.5h5M331 403.5h3M334 402.5h2M335 402.5h3M338 401.5h2M339 401.5h5M343 401.5h5M347 401.5h2M349 402.5h2M351 403.5h1M351 403.5h1M352 404.5h2M354 405.5h1M355 406.5h1M355 406.5h1M356 407.5h2M358 408.5h1M359 409.5h1M359 409.5h1M360 410.5h1M361 411.5h1M362 412.5h1M363 413.5h1M363 413.5h1M364 414.5h1M365 415.5h1M366 416.5h1M367 417.5h1M367 417.5h2M369 418.5h2M371 419.5h1M371 419.5h5M375 419.5h5M379 419.5h5M383 419.5h3M386 420.5h2M387 420.5h3M390 421.5h2M391 421.5h1M392 422.5h2M394 423.5h1M395 424.5h1M395 424.5h2M397 425.5h2M399 426.5h1M399 426.5h3M402 427.5h2M403 427.5h3M406 428.5h2M407 428.5h3M410 427.5h2M411 427.5h2M413 426.5h2M415 425.5h1M415 425.5h3M418 424.5h2M419 424.5h2M421 423.5h2M423 422.5h1M423 422.5h2M425 421.5h2M427 420.5h1M427 420.5h1M428 419.5h2M430 418.5h1M431 417.5h1M431 417.5h3M434 416.5h2M435 416.5h2M437 415.5h2M439 414.5h1M439 414.5h3M442 413.5h2M443 413.5h2M445 412.5h2M447 411.5h1M447 411.5h1M448 410.5h2M450 409.5h1M451 408.5h1M451 408.5h3M454 407.5h2M455 407.5h5M459 407.5h5M463 407.5h5M467 407.5h3M470 406.5h2M471 406.5h2M473 405.5h2M475 404.5h1M475 404.5h2M477 403.5h2M479 402.5h1M479 402.5h2M481 401.5h2M483 400.5h1M483 400.5h2M485 399.5h2M487 398.5h1M487 398.5h1M488 397.5h2M490 396.5h1M491 395.5h1M491 395.5h5M495 395.5h3M498 396.5h2M499 396.5h3M502 397.5h2M503 397.5h2M505 398.5h2M507 399.5h1M507 399.5h3M510 400.5h2M511 400.5h5M515 400.5h2M517 399.5h2M519 398.5h1M519 398.5h3M522 397.5h2M523 397.5h3M526 396.5h2M527 396.5h5M531 396.5h5M535 396.5h3M538 395.5h2M539 395.5h5M543 395.5h3M546 394.5h2M547 394.5h3M550 393.5h2M551 393.5h2M553 392.5h2M555 391.5h1M555 391.5h1M556 390.5h2M558 389.5h1M559 388.5h1M559 388.5h1M560 387.5h2M562 386.5h1M563 385.5h1M563 385.5h2M565 384.5h2M567 383.5h1M567 383.5h1M568 382.5h2M570 381.5h1M571 380.5h1M571 380.5h3M574 379.5h2M575 379.5h2M577 378.5h2M579 377.5h1M579 377.5h3M582 376.5h2M583 376.5h2M585 375.5h2M587 374.5h1M587 374.5h1M588 373.5h1M589 372.5h1M590 371.5h1M591 370.5h1M591 370.5h3M594 369.5h2M595 369.5h1M596 368.5h2M598 367.5h1M599 366.5h1M599 366.5h2M601 365.5h2M603 364.5h1M603 364.5h1M604 363.5h1M605 362.5h1M606 361.5h1M607 360.5h1M607 360.5h1M608 359.5h1M609 358.5h1M610 357.5h1M611 356.5h1M611 356.5h1M612 355.5h2M614 354.5h1M615 353.5h1M615 353.5h1M616 352.5h1M617 351.5h1M618 350.5h1M619 349.5h1M619 349.5h1M620 348.5h1M621 347.5h1M622 346.5h1M623 345.5h1M623 345.5h1M624 344.5h1M625 343.5h1M626 342.5h1M627 341.5h1M627 341.5h1M628 340.5h2M630 339.5h1M631 338.5h1M631.5 338v1M632.5 336v2M633.5 334v2M634.5 332v2M635.5 331v1M635.5 331v1M636.5 329v2M637.5 328v1M638.5 326v2M639.5 325v1M639.5 325v1M640.5 324v1M641.5 322v2M642.5 321v1M643.5 320v1M643.5 320v1M644.5 318v2M645.5 317v1M646.5 315v2M647.5 314v1M647.5 313v2M648.5 311v2M649.5 309v2M650.5 307v2M651.5 306v1M651.5 305v2M652.5 303v2M653.5 301v2M654.5 299v2M655.5 298v1M655.5 297v2M656.5 295v2M657.5 293v2M658.5 291v2M659.5 289v2M659.5 288v2M660.5 286v2M661.5 284v2M662.5 282v2M663.5 280v2M663.5 279v2M664.5 277v2M665.5 274v3M666.5 272v2M667.5 270v2M667.5 269v2M668.5 267v2M669.5 265v2M670.5 263v2M671.5 261v2M671.5 260v2M672.5 257v3M673.5 255v2M674.5 252v3M675.5 250v2M675.5 249v2M676.5 246v3M677.5 242v4M678.5 239v3M679.5 237v2M679.5 236v2M680.5 234v2M681.5 231v3M682.5 229v2M683.5 227v2M683.5 226v2M684.5 223v3M685.5 221v2M686.5 218v3M687.5 216v2M687.5 215v2M688.5 212v3M689.5 210v2M690.5 207v3M691.5 205v2M691.5 204v2M692.5 202v2M693.5 199v3M694.5 197v2M695.5 195v2M695.5 194v2M696.5 192v2M697.5 190v2M698.5 188v2M699.5 187v1M699.5 186v2M700.5 184v2M701.5 182v2M702.5 180v2M703.5 179v1M703.5 178v2M704.5 176v2M705.5 174v2M706.5 172v2M707.5 171v1M707.5 170v2M708.5 168v2M709.5 166v2M710.5 164v2M711.5 163v1M711.5 162v2M712.5 160v2M713.5 158v2M714.5 156v2M715.5 154v2M715.5 154v1M716.5 152v2M717.5 151v1M718.5 149v2M719.5 148v1M719 148.5h1M720 147.5h1M721 146.5h1M722 145.5h1M723 144.5h1M723 144.5h1M724 143.5h1M725 142.5h1M726 141.5h1M727 140.5h1M727 140.5h5M731 140.5h5M735 140.5h2M737 141.5h2M739 142.5h1M739 142.5h2M741 143.5h2M743 144.5h1M743 144.5h1M744 145.5h1M745 146.5h1M746 147.5h1M747 148.5h1M747 148.5h1M748 149.5h1M749 150.5h1M750 151.5h1M751 152.5h1M751 152.5h2M753 153.5h2M755 154.5h1M755 154.5h1M756 155.5h1M757 156.5h1M758 157.5h1M759 158.5h1M759.5 158v1M760.5 159v2M761.5 161v1M762.5 162v2M763.5 164v1M763.5 164v1M764.5 165v1M765.5 166v2M766.5 168v1M767.5 169v1M767.5 169v1M768.5 170v2M769.5 172v1M770.5 173v2M771.5 175v1M771.5 175v1M772.5 176v1M773.5 177v2M774.5 179v1M775.5 180v1M775.5 180v1M776.5 181v1M777.5 182v2M778.5 184v1M779.5 185v1M779 185.5h2M781 186.5h2M783 187.5h1M783 187.5h1M784 188.5h2M786 189.5h1M787 190.5h1M787 190.5h2M789 191.5h2M791 192.5h1M791.5 192v1M792.5 193v1M793.5 194v2M794.5 196v1M795.5 197v1M795 197.5h1M796 198.5h2M798 199.5h1M799 200.5h1M799 200.5h1M800 201.5h1M801 202.5h1M802 203.5h1M803 204.5h1M803 204.5h1M804 205.5h2M806 206.5h1M807 207.5h1M807 207.5h1M808 208.5h2M810 209.5h1M811 210.5h1M811 210.5h5M815 210.5h3M818 209.5h2M819 209.5h5M823 209.5h2M825 208.5h2M827 207.5h1M827 207.5h1M828 206.5h2M830 205.5h1M831 204.5h1M831 204.5h2M833 203.5h2M835 202.5h1M835 202.5h1M836 201.5h2M838 200.5h1M839 199.5h1M839 199.5h1M840 198.5h2M842 197.5h1M843 196.5h1M843 196.5h1M844 195.5h2M846 194.5h1M847 193.5h1M847 193.5h1M848 192.5h1M849 191.5h1M850 190.5h1M851 189.5h1M851 189.5h1M852 188.5h1M853 187.5h1M854 186.5h1M855 185.5h1M855 185.5h2M857 184.5h2M859 183.5h1M859 183.5h1M860 182.5h1M861 181.5h1M862 180.5h1M863 179.5h1M863 179.5h2M865 178.5h2M867 177.5h1M867 177.5h1M868 176.5h1M869 175.5h1M870 174.5h1M871 173.5h1M871 173.5h1M872 172.5h1M873 171.5h1M874 170.5h1M875 169.5h1M875.5 169v1M876.5 167v2M877.5 166v1M878.5 164v2M879.5 163v1M879 163.5h1M880 162.5h1M881 161.5h1M882 160.5h1M883 159.5h1M883 159.5h1M884 158.5h1M885 157.5h1M886 156.5h1M887 155.5h1M887 155.5h1M888 154.5h2M890 153.5h1M891 152.5h1M891.5 152v1M892.5 151v1M893.5 149v2M894.5 148v1M895.5 147v1M895.5 147v1M896.5 146v1M897.5 144v2M898.5 143v1M899.5 142v1M899 142.5h1M900 141.5h1M901 140.5h1M902 139.5h1M903 138.5h1M903.5 138v1M904.5 137v1M905.5 135v2M906.5 134v1M907.5 133v1M907 133.5h1M908 132.5h2M910 131.5h1M911 130.5h1M911 130.5h2M913 129.5h2M915 128.5h1M915 128.5h5M919 128.5h2M921 129.5h2M923 130.5h1" fill="none" stroke="#0000ff" stroke-width="1" clip-path="url(#cm)"/>
<path d="M2 378.5h1M3 379.5h1M4 380.5h1M5 381.5h1M6 382.5h1M7 383.5h1M8 384.5h1M9 385.5h1M10 386.5h1M10 386.5h2M12 387.5h2M14 388.5h3M17 389.5h2M19 390.5h2M20 390.5h2M22 391.5h2M24 392.5h2M26 393.5h2M28 394.5h1M28 394.5h5M32 394.5h1M33 393.5h2M35 392.5h2M37 391.5h1M38 390.5h2M40 389.5h2M42 388.5h1M42 388.5h1M43 387.5h2M45 386.5h2M47 385.5h2M49 384.5h2M51 383.5h1M51 383.5h3M54 382.5h2M55.5 382v1M56.5 381v1M57.5 379v2M58.5 378v1M59.5 377v1M59.5 377v1M60.5 376v1M61.5 374v2M62.5 373v1M63.5 372v1M63 372.5h1M64 371.5h1M65 370.5h1M66 369.5h1M67 368.5h1M67 368.5h2M69 367.5h2M71 366.5h1M71 366.5h2M73 367.5h2M75 368.5h1M75 368.5h2M77 367.5h2M79 366.5h1M79 366.5h1M80 365.5h2M82 364.5h1M83 363.5h1M83 363.5h3M86 362.5h2M87 362.5h3M90 363.5h2M91 363.5h5M95 363.5h1M96 364.5h1M97 365.5h1M98 366.5h1M99 367.5h1M99 367.5h1M100 368.5h1M101 369.5h1M102 370.5h1M103 371.5h1M103 371.5h1M104 372.5h2M106 373.5h1M107 374.5h1M107.5 374v1M108.5 375v2M109.5 377v2M110.5 379v2M111.5 381v1M111.5 381v1M112.5 382v2M113.5 384v2M114.5 386v2M115.5 388v1M115.5 388v2M116.5 390v2M117.5 392v2M118.5 394v2M119.5 396v2M119.5 397v1M120.5 398v2M121.5 400v2M122.5 402v2M123.5 404v1M123.5 404v1M124.5 405v1M125.5 406v2M126.5 408v1M127.5 409v1M127 409.5h2M129 410.5h2M131 411.5h1M131 411.5h2M133 412.5h2M135 413.5h1M135 413.5h1M136 414.5h2M138 415.5h1M139 416.5h1M139 416.5h1M140 417.5h2M142 418.5h1M143 419.5h1M143 419.5h2M145 420.5h2M147 421.5h1M147 421.5h3M150 422.5h2M151 422.5h1M152 421.5h2M154 420.5h1M155 419.5h1M155 419.5h1M156 418.5h2M158 417.5h1M159 416.5h1M159 416.5h1M160 415.5h2M162 414.5h1M163 413.5h1M163.5 413v1M164.5 412v1M165.5 410v2M166.5 409v1M167.5 408v1M167 408.5h2M169 407.5h2M171 406.5h1M171 406.5h3M174 405.5h2M175 405.5h5M179 405.5h3M182 404.5h2M183 404.5h3M186 403.5h2M187 403.5h2M189 404.5h2M191 405.5h1M191 405.5h5M195 405.5h3M198 406.5h2M199 406.5h3M202 407.5h2M203 407.5h3M206 408.5h2M207 408.5h1M208 409.5h1M209 410.5h1M210 411.5h1M211 412.5h1M211 412.5h1M212 413.5h2M214 414.5h1M215 415.5h1M215 415.5h2M217 416.5h2M219 417.5h1M219 417.5h1M220 418.5h2M222 419.5h1M223 420.5h1M223 420.5h2M225 421.5h2M227 422.5h1M227 422.5h5M231 422.5h3M234 423.5h2M235 423.5h2M237 424.5h2M239 425.5h1M239 425.5h3M242 426.5h2M243 426.5h3M246 425.5h2M247 425.5h5M251 425.5h3M254 426.5h2M255 426.5h3M258 427.5h2M259 427.5h3M262 426.5h2M263 426.5h2M265 425.5h2M267 424.5h1M267 424.5h1M268 423.5h1M269 422.5h1M270 421.5h1M271 420.5h1M271 420.5h2M273 419.5h2M275 418.5h1M275 418.5h1M276 417.5h2M278 416.5h1M279 415.5h1M279.5 415v1M280.5 414v1M281.5 412v2M282.5 411v1M283.5 410v1M283 410.5h1M284 409.5h1M285 408.5h1M286 407.5h1M287 406.5h1M287 406.5h2M289 405.5h2M291 404.5h1M291 404.5h2M293 403.5h2M295 402.5h1M295 402.5h5M299 402.5h3M302 401.5h2M303 401.5h2M305 400.5h2M307 399.5h1M307 399.5h2M309 398.5h2M311 397.5h1M311 397.5h2M313 396.5h2M315 395.5h1M315 395.5h3M318 394.5h2M319 394.5h2M321 395.5h2M323 396.5h1M323 396.5h1M324 397.5h2M326 398.5h1M327 399.5h1M327 399.5h2M329 400.5h2M331 401.5h1M331 401.5h1M332 402.5h1M333 403.5h1M334 404.5h1M335 405.5h1M335 405.5h1M336 406.5h2M338 407.5h1M339 408.5h1M339 408.5h2M341 409.5h2M343 410.5h1M343 410.5h3M346 411.5h2M347 411.5h3M350 412.5h2M351 412.5h3M354 413.5h2M355 413.5h2M357 414.5h2M359 415.5h1M359 415.5h1M360 416.5h1M361 417.5h1M362 418.5h1M363 419.5h1M363 419.5h1M364 420.5h1M365 421.5h1M366 422.5h1M367 423.5h1M367 423.5h3M370 424.5h2M371 424.5h2M373 425.5h2M375 426.5h1M375 426.5h5M379 426.5h5M383 426.5h3M386 427.5h2M387 427.5h3M390 428.5h2M391 428.5h1M392 429.5h2M394 430.5h1M395 431.5h1M395 431.5h2M397 432.5h2M399 433.5h1M399 433.5h3M402 434.5h2M403 434.5h3M406 433.5h2M407 433.5h1M408 432.5h2M410 431.5h1M411 430.5h1M411 430.5h1M412 429.5h1M413 428.5h1M414 427.5h1M415 426.5h1M415.5 426v1M416.5 424v2M417.5 423v1M418.5 421v2M419.5 420v1M419.5 420v1M420.5 419v1M421.5 417v2M422.5 416v1M423.5 415v1M423 415.5h1M424 414.5h1M425 413.5h1M426 412.5h1M427 411.5h1M427 411.5h1M428 410.5h1M429 409.5h1M430 408.5h1M431 407.5h1M431 407.5h5M435 407.5h3M438 406.5h2M439 406.5h3M442 405.5h2M443 405.5h2M445 404.5h2M447 403.5h1M447 403.5h1M448 402.5h1M449 401.5h1M450 400.5h1M451 399.5h1M451 399.5h1M452 398.5h2M454 397.5h1M455 396.5h1M455 396.5h2M457 395.5h2M459 394.5h1M459 394.5h5M463 394.5h2M465 395.5h2M467 396.5h1M467 396.5h2M469 397.5h2M471 398.5h1M471 398.5h3M474 399.5h2M475 399.5h2M477 400.5h2M479 401.5h1M479 401.5h2M481 402.5h2M483 403.5h1M483 403.5h2M485 404.5h2M487 405.5h1M487 405.5h1M488 404.5h2M490 403.5h1M491 402.5h1M491 402.5h3M494 401.5h2M495 401.5h2M497 400.5h2M499 399.5h1M499 399.5h5M503 399.5h2M505 400.5h2M507 401.5h1M507 401.5h3M510 400.5h2M511 400.5h2M513 399.5h2M515 398.5h1M515 398.5h1M516 397.5h1M517 396.5h1M518 395.5h1M519 394.5h1M519 394.5h2M521 393.5h2M523 392.5h1M523 392.5h2M525 391.5h2M527 390.5h1M527 390.5h5M531 390.5h3M534 389.5h2M535 389.5h3M538 390.5h2M539 390.5h3M542 391.5h2M543 391.5h3M546 392.5h2M547 392.5h3M550 393.5h2M551 393.5h2M553 392.5h2M555 391.5h1M555 391.5h1M556 390.5h1M557 389.5h1M558 388.5h1M559 387.5h1M559.5 387v1M560.5 385v2M561.5 383v2M562.5 381v2M563.5 380v1M563 380.5h1M564 379.5h2M566 378.5h1M567 377.5h1M567 377.5h2M569 376.5h2M571 375.5h1M571 375.5h1M572 374.5h2M574 373.5h1M575 372.5h1M575 372.5h3M578 371.5h2M579 371.5h3M582 370.5h2M583 370.5h1M584 369.5h1M585 368.5h1M586 367.5h1M587 366.5h1M587 366.5h1M588 365.5h2M590 364.5h1M591 363.5h1M591 363.5h1M592 362.5h2M594 361.5h1M595 360.5h1M595.5 360v1M596.5 358v2M597.5 357v1M598.5 355v2M599.5 354v1M599.5 354v1M600.5 353v1M601.5 351v2M602.5 350v1M603.5 349v1M603.5 349v1M604.5 347v2M605.5 345v2M606.5 343v2M607.5 342v1M607 342.5h1M608 341.5h1M609 340.5h1M610 339.5h1M611 338.5h1M611 338.5h3M614 337.5h2M615 337.5h3M618 336.5h2M619 336.5h2M621 335.5h2M623 334.5h1M623 334.5h2M625 333.5h2M627 332.5h1M627 332.5h3M630 331.5h2M631.5 331v1M632.5 329v2M633.5 327v2M634.5 325v2M635.5 324v1M635.5 323v2M636.5 321v2M637.5 318v3M638.5 316v2M639.5 314v2M639.5 314v1M640.5 312v2M641.5 310v2M642.5 308v2M643.5 307v1M643.5 306v2M644.5 303v3M645.5 301v2M646.5 298v3M647.5 296v2M647.5 295v2M648.5 292v3M649.5 288v4M650.5 285v3M651.5 283v2M651.5 282v2M652.5 279v3M653.5 277v2M654.5 274v3M655.5 272v2M655.5 271v2M656.5 268v3M657.5 266v2M658.5 263v3M659.5 261v2M659.5 260v2M660.5 258v2M661.5 256v2M662.5 254v2M663.5 252v2M663.5 251v2M664.5 248v3M665.5 245v3M666.5 242v3M667.5 240v2M667.5 239v2M668.5 236v3M669.5 233v3M670.5 230v3M671.5 228v2M671.5 227v2M672.5 224v3M673.5 220v4M674.5 217v3M675.5 215v2M675.5 213v3M676.5 209v4M677.5 205v4M678.5 201v4M679.5 199v2M679.5 197v3M680.5 193v4M681.5 189v4M682.5 185v4M683.5 183v2M683.5 181v3M684.5 177v4M685.5 172v5M686.5 168v4M687.5 165v3M687.5 164v2M688.5 161v3M689.5 158v3M690.5 155v3M691.5 153v2M691.5 152v2M692.5 150v2M693.5 147v3M694.5 145v2M695.5 143v2M695.5 143v1M696.5 141v2M697.5 139v2M698.5 137v2M699.5 136v1M699 136.5h1M700 135.5h2M702 134.5h1M703 133.5h1M703 133.5h2M705 132.5h2M707 131.5h1M707 131.5h3M710 130.5h2M711 130.5h2M713 129.5h2M715 128.5h1M715 128.5h1M716 127.5h2M718 126.5h1M719 125.5h1M719 125.5h5M723 125.5h5M727.5 125v1M728.5 126v1M729.5 127v2M730.5 129v1M731.5 130v1M731.5 130v1M732.5 131v2M733.5 133v2M734.5 135v2M735.5 137v1M735.5 137v1M736.5 138v2M737.5 140v2M738.5 142v2M739.5 144v1M739.5 144v2M740.5 146v2M741.5 148v3M742.5 151v2M743.5 153v2M743.5 154v2M744.5 156v3M745.5 159v4M746.5 163v3M747.5 166v2M747.5 167v2M748.5 169v2M749.5 171v2M750.5 173v2M751.5 175v1M751.5 175v1M752.5 176v1M753.5 177v2M754.5 179v1M755.5 180v1M755 180.5h1M756 181.5h1M757 182.5h1M758 183.5h1M759 184.5h1M759 184.5h1M760 185.5h2M762 186.5h1M763 187.5h1M763.5 187v1M764.5 188v1M765.5 189v2M766.5 191v1M767.5 192v1M767.5 192v1M768.5 193v2M769.5 195v1M770.5 196v2M771.5 198v1M771 198.5h1M772 199.5h2M774 200.5h1M775 201.5h1M775 201.5h1M776 202.5h1M777 203.5h1M778 204.5h1M779 205.5h1M779 205.5h1M780 206.5h2M782 207.5h1M783 208.5h1M783 208.5h5M787 208.5h3M790 209.5h2M791 209.5h1M792 210.5h2M794 211.5h1M795 212.5h1M795 212.5h5M799 212.5h1M800 211.5h2M802 210.5h1M803 209.5h1M803 209.5h3M806 208.5h2M807 208.5h5M811 208.5h5M815 208.5h2M817 207.5h2M819 206.5h1M819 206.5h2M821 205.5h2M823 204.5h1M823 204.5h2M825 203.5h2M827 202.5h1M827 202.5h5M831 202.5h3M834 201.5h2M835 201.5h1M836 200.5h1M837 199.5h1M838 198.5h1M839 197.5h1M839 197.5h1M840 196.5h1M841 195.5h1M842 194.5h1M843 193.5h1M843 193.5h1M844 192.5h1M845 191.5h1M846 190.5h1M847 189.5h1M847.5 188v2M848.5 186v2M849.5 184v2M850.5 182v2M851.5 181v1M851.5 181v1M852.5 179v2M853.5 177v2M854.5 175v2M855.5 174v1M855.5 174v1M856.5 173v1M857.5 171v2M858.5 170v1M859.5 169v1M859.5 169v1M860.5 167v2M861.5 166v1M862.5 164v2M863.5 163v1M863.5 163v1M864.5 162v1M865.5 160v2M866.5 159v1M867.5 158v1M867.5 158v1M868.5 156v2M869.5 155v1M870.5 153v2M871.5 152v1M871 152.5h1M872 151.5h1M873 150.5h1M874 149.5h1M875 148.5h1M875.5 148v1M876.5 147v1M877.5 145v2M878.5 144v1M879.5 143v1M879 143.5h1M880 142.5h2M882 141.5h1M883 140.5h1M883.5 140v1M884.5 139v1M885.5 137v2M886.5 136v1M887.5 135v1M887 135.5h2M889 134.5h2M891 133.5h1M891 133.5h2M893 132.5h2M895 131.5h1M895 131.5h1M896 130.5h1M897 129.5h1M898 128.5h1M899 127.5h1M899 127.5h1M900 126.5h1M901 125.5h1M902 124.5h1M903 123.5h1M903 123.5h2M905 122.5h2M907 121.5h1M907 121.5h1M908 120.5h2M910 119.5h1M911 118.5h1M911 118.5h2M913 119.5h2M915 120.5h1M915 120.5h1M916 121.5h1M917 122.5h1M918 123.5h1M919 124.5h1M919 124.5h1M920 125.5h1M921 126.5h1M922 127.5h1M923 128.5h1" fill="none" stroke="#ff0000" stroke-width="1" clip-path="url(#cm)"/>
<rect x="3" y="47" width="1162" height="2" fill="#ff0000"/>
<rect x="3" y="131" width="1162" height="2" fill="#ff0000"/>
<rect x="3" y="211" width="1162" height="2" fill="#00ff00"/><rect x="2" y="209" width="6" height="6" fill="#00ff00"/><rect x="4" y="211" width="2" height="2" fill="#fff"/><rect x="1159" y="209" width="6" height="6" fill="#00ff00"/><rect x="1161" y="211" width="2" height="2" fill="#fff"/>
<rect x="3" y="282" width="1162" height="2" fill="#0000ff"/><rect x="2" y="280" width="6" height="6" fill="#0000ff"/><rect x="4" y="282" width="2" height="2" fill="#fff"/><rect x="1159" y="280" width="6" height="6" fill="#0000ff"/><rect x="1161" y="282" width="2" height="2" fill="#fff"/>
<rect x="3" y="353" width="1162" height="2" fill="#0000ff"/><rect x="2" y="351" width="6" height="6" fill="#0000ff"/><rect x="4" y="353" width="2" height="2" fill="#fff"/><rect x="1159" y="351" width="6" height="6" fill="#0000ff"/><rect x="1161" y="353" width="2" height="2" fill="#fff"/>
<g clip-path="url(#cd)" fill="#c0c0c0">
<rect x="2" y="537" width="3" height="29"/>
<rect x="6" y="537" width="3" height="28"/>
<rect x="10" y="537" width="3" height="27"/>
<rect x="14" y="537" width="3" height="25"/>
<rect x="18" y="537" width="3" height="23"/>
<rect x="22" y="537" width="3" height="23"/>
<rect x="26" y="537" width="3" height="23"/>
<rect x="30" y="537" width="3" height="21"/>
<rect x="34" y="537" width="3" height="19"/>
<rect x="38" y="537" width="3" height="17"/>
<rect x="42" y="537" width="3" height="15"/>
<rect x="46" y="537" width="3" height="13"/>
<rect x="50" y="537" width="3" height="11"/>
<rect x="54" y="537" width="3" height="9"/>
<rect x="58" y="537" width="3" height="6"/>
<rect x="62" y="537" width="3" height="4"/>
<rect x="66" y="537" width="3" height="2"/>
<rect x="70" y="537" width="3" height="2"/>
<rect x="74" y="537" width="3" height="4"/>
<rect x="78" y="537" width="3" height="4"/>
<rect x="82" y="537" width="3" height="5"/>
<rect x="86" y="537" width="3" height="5"/>
<rect x="90" y="537" width="3" height="5"/>
<rect x="94" y="537" width="3" height="5"/>
<rect x="98" y="537" width="3" height="7"/>
<rect x="102" y="537" width="3" height="9"/>
<rect x="106" y="537" width="3" height="10"/>
<rect x="110" y="537" width="3" height="12"/>
<rect x="114" y="537" width="3" height="13"/>
<rect x="118" y="537" width="3" height="15"/>
<rect x="122" y="537" width="3" height="15"/>
<rect x="126" y="537" width="3" height="15"/>
<rect x="130" y="537" width="3" height="14"/>
<rect x="134" y="537" width="3" height="13"/>
<rect x="138" y="537" width="3" height="12"/>
<rect x="142" y="537" width="3" height="10"/>
<rect x="146" y="537" width="3" height="10"/>
<rect x="150" y="537" width="3" height="8"/>
<rect x="154" y="537" width="3" height="5"/>
<rect x="158" y="537" width="3" height="3"/>
<rect x="162" y="537" width="3" height="2"/>
<rect x="166" y="537" width="3" height="1"/>
<rect x="170" y="537" width="3" height="1"/>
<rect x="174" y="537" width="3" height="3"/>
<rect x="178" y="537" width="3" height="4"/>
<rect x="182" y="537" width="3" height="4"/>
<rect x="186" y="537" width="3" height="4"/>
<rect x="190" y="537" width="3" height="5"/>
<rect x="194" y="537" width="3" height="6"/>
<rect x="198" y="537" width="3" height="5"/>
<rect x="202" y="537" width="3" height="5"/>
<rect x="206" y="537" width="3" height="5"/>
<rect x="210" y="537" width="3" height="5"/>
<rect x="214" y="537" width="3" height="5"/>
<rect x="218" y="537" width="3" height="4"/>
<rect x="222" y="537" width="3" height="4"/>
<rect x="226" y="537" width="3" height="5"/>
<rect x="230" y="537" width="3" height="5"/>
<rect x="234" y="537" width="3" height="6"/>
<rect x="238" y="537" width="3" height="6"/>
<rect x="242" y="537" width="3" height="6"/>
<rect x="246" y="537" width="3" height="5"/>
<rect x="250" y="537" width="3" height="4"/>
<rect x="254" y="537" width="3" height="4"/>
<rect x="258" y="537" width="3" height="4"/>
<rect x="262" y="537" width="3" height="3"/>
<rect x="266" y="537" width="3" height="1"/>
<rect x="270" y="536" width="3" height="1"/>
<rect x="274" y="534" width="3" height="3"/>
<rect x="278" y="531" width="3" height="6"/>
<rect x="282" y="531" width="3" height="6"/>
<rect x="286" y="530" width="3" height="7"/>
<rect x="290" y="532" width="3" height="5"/>
<rect x="294" y="533" width="3" height="4"/>
<rect x="298" y="535" width="3" height="2"/>
<rect x="302" y="535" width="3" height="2"/>
<rect x="306" y="535" width="3" height="2"/>
<rect x="310" y="535" width="3" height="2"/>
<rect x="314" y="535" width="3" height="2"/>
<rect x="318" y="535" width="3" height="2"/>
<rect x="322" y="536" width="3" height="1"/>
<rect x="326" y="537" width="3" height="1"/>
<rect x="330" y="537" width="3" height="1"/>
<rect x="334" y="537" width="3" height="1"/>
<rect x="338" y="537" width="3" height="1"/>
<rect x="342" y="537" width="3" height="1"/>
<rect x="346" y="537" width="3" height="1"/>
<rect x="350" y="537" width="3" height="3"/>
<rect x="354" y="537" width="3" height="3"/>
<rect x="358" y="537" width="3" height="4"/>
<rect x="362" y="537" width="3" height="6"/>
<rect x="366" y="537" width="3" height="7"/>
<rect x="370" y="537" width="3" height="6"/>
<rect x="374" y="537" width="3" height="5"/>
<rect x="378" y="537" width="3" height="4"/>
<rect x="382" y="537" width="3" height="3"/>
<rect x="386" y="537" width="3" height="3"/>
<rect x="390" y="537" width="3" height="3"/>
<rect x="394" y="537" width="3" height="4"/>
<rect x="398" y="537" width="3" height="5"/>
<rect x="402" y="537" width="3" height="5"/>
<rect x="406" y="537" width="3" height="4"/>
<rect x="410" y="537" width="3" height="1"/>
<rect x="414" y="535" width="3" height="2"/>
<rect x="418" y="534" width="3" height="3"/>
<rect x="422" y="532" width="3" height="5"/>
<rect x="426" y="530" width="3" height="7"/>
<rect x="430" y="529" width="3" height="8"/>
<rect x="434" y="531" width="3" height="6"/>
<rect x="438" y="531" width="3" height="6"/>
<rect x="442" y="532" width="3" height="5"/>
<rect x="446" y="533" width="3" height="4"/>
<rect x="450" y="533" width="3" height="4"/>
<rect x="454" y="533" width="3" height="4"/>
<rect x="458" y="534" width="3" height="3"/>
<rect x="462" y="536" width="3" height="1"/>
<rect x="466" y="536" width="3" height="1"/>
<rect x="470" y="536" width="3" height="1"/>
<rect x="474" y="536" width="3" height="1"/>
<rect x="478" y="536" width="3" height="1"/>
<rect x="482" y="535" width="3" height="2"/>
<rect x="486" y="535" width="3" height="2"/>
<rect x="490" y="534" width="3" height="3"/>
<rect x="494" y="533" width="3" height="4"/>
<rect x="498" y="533" width="3" height="4"/>
<rect x="502" y="534" width="3" height="3"/>
<rect x="506" y="536" width="3" height="1"/>
<rect x="510" y="535" width="3" height="2"/>
<rect x="514" y="534" width="3" height="3"/>
<rect x="518" y="533" width="3" height="4"/>
<rect x="522" y="533" width="3" height="4"/>
<rect x="526" y="532" width="3" height="5"/>
<rect x="530" y="533" width="3" height="4"/>
<rect x="534" y="534" width="3" height="3"/>
<rect x="538" y="535" width="3" height="2"/>
<rect x="542" y="535" width="3" height="2"/>
<rect x="546" y="536" width="3" height="1"/>
<rect x="550" y="536" width="3" height="1"/>
<rect x="554" y="534" width="3" height="3"/>
<rect x="558" y="532" width="3" height="5"/>
<rect x="562" y="529" width="3" height="8"/>
<rect x="566" y="528" width="3" height="9"/>
<rect x="570" y="528" width="3" height="9"/>
<rect x="574" y="527" width="3" height="10"/>
<rect x="578" y="527" width="3" height="10"/>
<rect x="582" y="528" width="3" height="9"/>
<rect x="586" y="528" width="3" height="9"/>
<rect x="590" y="528" width="3" height="9"/>
<rect x="594" y="529" width="3" height="8"/>
<rect x="598" y="528" width="3" height="9"/>
<rect x="602" y="527" width="3" height="10"/>
<rect x="606" y="525" width="3" height="12"/>
<rect x="610" y="524" width="3" height="13"/>
<rect x="614" y="524" width="3" height="13"/>
<rect x="618" y="524" width="3" height="13"/>
<rect x="622" y="524" width="3" height="13"/>
<rect x="626" y="525" width="3" height="12"/>
<rect x="630" y="526" width="3" height="11"/>
<rect x="634" y="522" width="3" height="15"/>
<rect x="638" y="519" width="3" height="18"/>
<rect x="642" y="517" width="3" height="20"/>
<rect x="646" y="513" width="3" height="24"/>
<rect x="650" y="510" width="3" height="27"/>
<rect x="654" y="507" width="3" height="30"/>
<rect x="658" y="504" width="3" height="33"/>
<rect x="662" y="503" width="3" height="34"/>
<rect x="666" y="501" width="3" height="36"/>
<rect x="670" y="501" width="3" height="36"/>
<rect x="674" y="499" width="3" height="38"/>
<rect x="678" y="496" width="3" height="41"/>
<rect x="682" y="495" width="3" height="42"/>
<rect x="686" y="494" width="3" height="43"/>
<rect x="690" y="493" width="3" height="44"/>
<rect x="694" y="494" width="3" height="43"/>
<rect x="698" y="497" width="3" height="40"/>
<rect x="702" y="501" width="3" height="36"/>
<rect x="706" y="505" width="3" height="32"/>
<rect x="710" y="508" width="3" height="29"/>
<rect x="714" y="509" width="3" height="28"/>
<rect x="718" y="511" width="3" height="26"/>
<rect x="722" y="513" width="3" height="24"/>
<rect x="726" y="516" width="3" height="21"/>
<rect x="730" y="521" width="3" height="16"/>
<rect x="734" y="524" width="3" height="13"/>
<rect x="738" y="527" width="3" height="10"/>
<rect x="742" y="531" width="3" height="6"/>
<rect x="746" y="535" width="3" height="2"/>
<rect x="750" y="537" width="3" height="1"/>
<rect x="754" y="537" width="3" height="2"/>
<rect x="758" y="537" width="3" height="2"/>
<rect x="762" y="537" width="3" height="3"/>
<rect x="766" y="537" width="3" height="4"/>
<rect x="770" y="537" width="3" height="4"/>
<rect x="774" y="537" width="3" height="2"/>
<rect x="778" y="537" width="3" height="2"/>
<rect x="782" y="537" width="3" height="2"/>
<rect x="786" y="537" width="3" height="2"/>
<rect x="790" y="537" width="3" height="3"/>
<rect x="794" y="537" width="3" height="4"/>
<rect x="798" y="537" width="3" height="5"/>
<rect x="802" y="537" width="3" height="4"/>
<rect x="806" y="537" width="3" height="4"/>
<rect x="810" y="537" width="3" height="4"/>
<rect x="814" y="537" width="3" height="3"/>
<rect x="818" y="537" width="3" height="2"/>
<rect x="822" y="537" width="3" height="1"/>
<rect x="826" y="536" width="3" height="1"/>
<rect x="830" y="535" width="3" height="2"/>
<rect x="834" y="535" width="3" height="2"/>
<rect x="838" y="533" width="3" height="4"/>
<rect x="842" y="531" width="3" height="6"/>
<rect x="846" y="529" width="3" height="8"/>
<rect x="850" y="527" width="3" height="10"/>
<rect x="854" y="526" width="3" height="11"/>
<rect x="858" y="525" width="3" height="12"/>
<rect x="862" y="524" width="3" height="13"/>
<rect x="866" y="525" width="3" height="12"/>
<rect x="870" y="524" width="3" height="13"/>
<rect x="874" y="524" width="3" height="13"/>
<rect x="878" y="524" width="3" height="13"/>
<rect x="882" y="524" width="3" height="13"/>
<rect x="886" y="524" width="3" height="13"/>
<rect x="890" y="526" width="3" height="11"/>
<rect x="894" y="526" width="3" height="11"/>
<rect x="898" y="524" width="3" height="13"/>
<rect x="902" y="523" width="3" height="14"/>
<rect x="906" y="522" width="3" height="15"/>
<rect x="910" y="522" width="3" height="15"/>
<rect x="914" y="526" width="3" height="11"/>
<rect x="918" y="529" width="3" height="8"/>
<rect x="922" y="534" width="3" height="3"/>
</g>
<path d="M3 567.5h5M7 567.5h3M10 566.5h2M11 566.5h3M14 565.5h2M15 565.5h5M19 565.5h3M22 564.5h2M23 564.5h3M26 563.5h2M27 563.5h3M30 562.5h2M31 562.5h3M34 561.5h2M35 561.5h3M38 560.5h2M39 560.5h3M42 559.5h2M43 559.5h2M45 558.5h2M47 557.5h1M47 557.5h2M49 556.5h2M51 555.5h1M51 555.5h3M54 554.5h2M55 554.5h2M57 553.5h2M59 552.5h1M59 552.5h2M61 551.5h2M63 550.5h1M63 550.5h2M65 549.5h2M67 548.5h1M67 548.5h2M69 547.5h2M71 546.5h1M71 546.5h2M73 545.5h2M75 544.5h1M75 544.5h3M78 543.5h2M79 543.5h3M82 542.5h2M83 542.5h5M87 542.5h3M90 541.5h2M91 541.5h5M95 541.5h5M99 541.5h3M102 542.5h2M103 542.5h3M106 543.5h2M107 543.5h3M110 544.5h2M111 544.5h3M114 545.5h2M115 545.5h3M118 546.5h2M119 546.5h3M122 547.5h2M123 547.5h3M126 548.5h2M127 548.5h3M130 549.5h2M131 549.5h3M134 550.5h2M135 550.5h5M139 550.5h5M143 550.5h5M147 550.5h3M150 549.5h2M151 549.5h3M154 548.5h2M155 548.5h3M158 547.5h2M159 547.5h3M162 546.5h2M163 546.5h2M165 545.5h2M167 544.5h1M167 544.5h3M170 543.5h2M171 543.5h3M174 542.5h2M175 542.5h3M178 541.5h2M179 541.5h3M182 540.5h2M183 540.5h5M187 540.5h5M191 540.5h5M195 540.5h3M198 541.5h2M199 541.5h5M203 541.5h3M206 542.5h2M207 542.5h5M211 542.5h5M215 542.5h5M219 542.5h5M223 542.5h5M227 542.5h5M231 542.5h5M235 542.5h5M239 542.5h5M243 542.5h5M247 542.5h5M251 542.5h5M255 542.5h5M259 542.5h5M263 542.5h3M266 541.5h2M267 541.5h5M271 541.5h2M273 540.5h2M275 539.5h1M275 539.5h3M278 538.5h2M279 538.5h3M282 537.5h2M283 537.5h3M286 536.5h2M287 536.5h3M290 535.5h2M291 535.5h3M294 534.5h2M295 534.5h3M298 533.5h2M299 533.5h5M303 533.5h5M307 533.5h5M311 533.5h5M315 533.5h3M318 534.5h2M319 534.5h5M323 534.5h3M326 535.5h2M327 535.5h5M331 535.5h3M334 536.5h2M335 536.5h5M339 536.5h5M343 536.5h3M346 537.5h2M347 537.5h5M351 537.5h3M354 538.5h2M355 538.5h5M359 538.5h3M362 539.5h2M363 539.5h3M366 540.5h2M367 540.5h3M370 541.5h2M371 541.5h5M375 541.5h5M379 541.5h3M382 542.5h2M383 542.5h5M387 542.5h5M391 542.5h5M395 542.5h3M398 541.5h2M399 541.5h5M403 541.5h5M407 541.5h5M411 541.5h3M414 540.5h2M415 540.5h3M418 539.5h2M419 539.5h3M422 538.5h2M423 538.5h3M426 537.5h2M427 537.5h3M430 536.5h2M431 536.5h3M434 535.5h2M435 535.5h3M438 534.5h2M439 534.5h3M442 533.5h2M443 533.5h3M446 532.5h2M447 532.5h5M451 532.5h5M455 532.5h5M459 532.5h5M463 532.5h3M466 533.5h2M467 533.5h3M470 534.5h2M471 534.5h5M475 534.5h3M478 535.5h2M479 535.5h5M483 535.5h5M487 535.5h5M491 535.5h5M495 535.5h5M499 535.5h5M503 535.5h3M506 534.5h2M507 534.5h5M511 534.5h5M515 534.5h5M519 534.5h5M523 534.5h5M527 534.5h5M531 534.5h5M535 534.5h5M539 534.5h5M543 534.5h5M547 534.5h5M551 534.5h5M555 534.5h5M559 534.5h5M563 534.5h3M566 533.5h2M567 533.5h5M571 533.5h3M574 532.5h2M575 532.5h3M578 531.5h2M579 531.5h3M582 530.5h2M583 530.5h3M586 529.5h2M587 529.5h3M590 528.5h2M591 528.5h5M595 528.5h5M599 528.5h5M603 528.5h5M607 528.5h3M610 527.5h2M611 527.5h5M615 527.5h3M618 526.5h2M619 526.5h5M623 526.5h3M626 525.5h2M627 525.5h5M631 525.5h5M635 525.5h3M638 524.5h2M639 524.5h3M642 523.5h2M643 523.5h3M646 522.5h2M647 522.5h2M649 521.5h2M651 520.5h1M651 520.5h2M653 519.5h2M655 518.5h1M655 518.5h2M657 517.5h2M659 516.5h1M659 516.5h1M660 515.5h2M662 514.5h1M663 513.5h1M663 513.5h2M665 512.5h2M667 511.5h1M667 511.5h1M668 510.5h2M670 509.5h1M671 508.5h1M671 508.5h2M673 507.5h2M675 506.5h1M675 506.5h2M677 505.5h2M679 504.5h1M679 504.5h2M681 503.5h2M683 502.5h1M683 502.5h2M685 501.5h2M687 500.5h1M687 500.5h2M689 499.5h2M691 498.5h1M691 498.5h3M694 497.5h2M695 497.5h5M699 497.5h5M703 497.5h5M707 497.5h3M710 498.5h2M711 498.5h2M713 499.5h2M715 500.5h1M715 500.5h3M718 501.5h2M719 501.5h1M720 502.5h2M722 503.5h1M723 504.5h1M723 504.5h2M725 505.5h2M727 506.5h1M727 506.5h1M728 507.5h2M730 508.5h1M731 509.5h1M731 509.5h1M732 510.5h2M734 511.5h1M735 512.5h1M735 512.5h1M736 513.5h2M738 514.5h1M739 515.5h1M739 515.5h1M740 516.5h2M742 517.5h1M743 518.5h1M743 518.5h1M744 519.5h2M746 520.5h1M747 521.5h1M747 521.5h1M748 522.5h2M750 523.5h1M751 524.5h1M751 524.5h1M752 525.5h2M754 526.5h1M755 527.5h1M755 527.5h1M756 528.5h2M758 529.5h1M759 530.5h1M759 530.5h1M760 531.5h2M762 532.5h1M763 533.5h1M763 533.5h2M765 534.5h2M767 535.5h1M767 535.5h2M769 536.5h2M771 537.5h1M771 537.5h3M774 538.5h2M775 538.5h3M778 539.5h2M779 539.5h5M783 539.5h3M786 540.5h2M787 540.5h5M791 540.5h5M795 540.5h5M799 540.5h5M803 540.5h5M807 540.5h5M811 540.5h3M814 541.5h2M815 541.5h3M818 540.5h2M819 540.5h5M823 540.5h5M827 540.5h3M830 539.5h2M831 539.5h5M835 539.5h3M838 538.5h2M839 538.5h2M841 537.5h2M843 536.5h1M843 536.5h3M846 535.5h2M847 535.5h3M850 534.5h2M851 534.5h2M853 533.5h2M855 532.5h1M855 532.5h3M858 531.5h2M859 531.5h2M861 530.5h2M863 529.5h1M863 529.5h3M866 528.5h2M867 528.5h3M870 527.5h2M871 527.5h3M874 526.5h2M875 526.5h3M878 525.5h2M879 525.5h5M883 525.5h3M886 524.5h2M887 524.5h5M891 524.5h5M895 524.5h5M899 524.5h5M903 524.5h5M907 524.5h5M911 524.5h5M915 524.5h3M918 525.5h2M919 525.5h3M922 526.5h2" fill="none" stroke="#ff0000" stroke-width="1" clip-path="url(#cd)"/>
<line x1="4" y1="600.5" x2="1165" y2="600.5" stroke="#c0c0c0" stroke-dasharray="3,3"/>
<line x1="4" y1="634.5" x2="1165" y2="634.5" stroke="#c0c0c0" stroke-dasharray="3,3"/>
<path d="M3 634.5h1M4 633.5h2M6 632.5h1M7 631.5h1M7 631.5h3M10 630.5h2M11 630.5h1M12 629.5h2M14 628.5h1M15 627.5h1M15 627.5h1M16 626.5h2M18 625.5h1M19 624.5h1M19.5 624v1M20.5 625v1M21.5 626v2M22.5 628v1M23.5 629v1M23 629.5h1M24 630.5h2M26 631.5h1M27 632.5h1M27.5 631v2M28.5 629v2M29.5 627v2M30.5 625v2M31.5 624v1M31.5 624v1M32.5 623v1M33.5 621v2M34.5 620v1M35.5 619v1M35 619.5h1M36 620.5h1M37 621.5h1M38 622.5h1M39 623.5h1M39.5 623v1M40.5 622v1M41.5 620v2M42.5 619v1M43.5 618v1M43 618.5h3M46 617.5h2M47 617.5h1M48 618.5h2M50 619.5h1M51 620.5h1M51.5 620v1M52.5 619v1M53.5 617v2M54.5 616v1M55.5 615v1M55 615.5h2M57 614.5h2M59 613.5h1M59 613.5h3M62 612.5h2M63 612.5h5M67.5 612v1M68.5 613v2M69.5 615v1M70.5 616v2M71.5 618v1M71.5 618v1M72.5 619v2M73.5 621v2M74.5 623v2M75.5 625v1M75 625.5h1M76 624.5h1M77 623.5h1M78 622.5h1M79 621.5h1M79 621.5h5M83 621.5h2M85 620.5h2M87 619.5h1M87 619.5h1M88 620.5h2M90 621.5h1M91 622.5h1M91 622.5h3M94 621.5h2M95.5 621v1M96.5 622v1M97.5 623v2M98.5 625v1M99.5 626v1M99 626.5h3M102 627.5h2M103 627.5h3M106 628.5h2M107 628.5h2M109 629.5h2M111 630.5h1M111 630.5h3M114 631.5h2M115 631.5h3M118 632.5h2M119.5 632v1M120.5 631v1M121.5 629v2M122.5 628v1M123.5 627v1M123 627.5h2M125 626.5h2M127 625.5h1M127 625.5h5M131 625.5h1M132 624.5h2M134 623.5h1M135 622.5h1M135 622.5h2M137 623.5h2M139 624.5h1M139.5 624v1M140.5 622v2M141.5 621v1M142.5 619v2M143.5 618v1M143 618.5h1M144 619.5h2M146 620.5h1M147 621.5h1M147 621.5h1M148 620.5h1M149 619.5h1M150 618.5h1M151 617.5h1M151.5 617v1M152.5 615v2M153.5 614v1M154.5 612v2M155.5 611v1M155 611.5h3M158 612.5h2M159 612.5h2M161 613.5h2M163 614.5h1M163 614.5h1M164 613.5h1M165 612.5h1M166 611.5h1M167 610.5h1M167.5 610v2M168.5 612v3M169.5 615v2M170.5 617v3M171.5 620v2M171 621.5h1M172 622.5h1M173 623.5h1M174 624.5h1M175 625.5h1M175 625.5h2M177 624.5h2M179 623.5h1M179 623.5h1M180 622.5h2M182 621.5h1M183 620.5h1M183 620.5h5M187 620.5h1M188 621.5h1M189 622.5h1M190 623.5h1M191 624.5h1M191 624.5h3M194 623.5h2M195 623.5h1M196 622.5h1M197 621.5h1M198 620.5h1M199 619.5h1M199 619.5h2M201 620.5h2M203 621.5h1M203 621.5h2M205 620.5h2M207 619.5h1M207 619.5h2M209 620.5h2M211 621.5h1M211 621.5h5M215 621.5h2M217 620.5h2M219 619.5h1M219 619.5h1M220 618.5h2M222 617.5h1M223 616.5h1M223.5 616v2M224.5 618v2M225.5 620v2M226.5 622v2M227.5 624v1M227 624.5h3M230 623.5h2M231 623.5h3M234 624.5h2M235 624.5h5M239.5 624v1M240.5 623v1M241.5 621v2M242.5 620v1M243.5 619v1M243 619.5h2M245 618.5h2M247 617.5h1M247 617.5h3M250 618.5h2M251 618.5h2M253 619.5h2M255 620.5h1M255 620.5h2M257 621.5h2M259 622.5h1M259.5 622v1M260.5 620v2M261.5 618v2M262.5 616v2M263.5 615v1M263.5 615v1M264.5 613v2M265.5 612v1M266.5 610v2M267.5 609v1M267 609.5h3M270 608.5h2M271 608.5h3M274 607.5h2M275 607.5h2M277 606.5h2M279 605.5h1M279 605.5h1M280 606.5h1M281 607.5h1M282 608.5h1M283 609.5h1M283 609.5h3M286 610.5h2M287.5 610v2M288.5 612v2M289.5 614v2M290.5 616v2M291.5 618v2M291 619.5h2M293 620.5h2M295 621.5h1M295 621.5h3M298 622.5h2M299.5 622v1M300.5 621v1M301.5 619v2M302.5 618v1M303.5 617v1M303 617.5h3M306 616.5h2M307 616.5h2M309 615.5h2M311 614.5h1M311 614.5h1M312 615.5h1M313 616.5h1M314 617.5h1M315 618.5h1M315 618.5h2M317 617.5h2M319 616.5h1M319 616.5h1M320 617.5h2M322 618.5h1M323 619.5h1M323 619.5h2M325 620.5h2M327 621.5h1M327 621.5h2M329 620.5h2M331 619.5h1M331 619.5h2M333 620.5h2M335 621.5h1M335 621.5h1M336 620.5h1M337 619.5h1M338 618.5h1M339 617.5h1M339 617.5h1M340 618.5h2M342 619.5h1M343 620.5h1M343 620.5h3M346 621.5h2M347 621.5h1M348 622.5h1M349 623.5h1M350 624.5h1M351 625.5h1M351 625.5h3M354 624.5h2M355 624.5h3M358 625.5h2M359.5 625v1M360.5 626v2M361.5 628v2M362.5 630v2M363.5 632v1M363.5 632v1M364.5 631v1M365.5 629v2M366.5 628v1M367.5 627v1M367.5 626v2M368.5 623v3M369.5 621v2M370.5 618v3M371.5 616v2M371 616.5h1M372 617.5h2M374 618.5h1M375 619.5h1M375 619.5h1M376 618.5h2M378 617.5h1M379 616.5h1M379 616.5h3M382 615.5h2M383 615.5h1M384 616.5h1M385 617.5h1M386 618.5h1M387 619.5h1M387 619.5h1M388 620.5h2M390 621.5h1M391 622.5h1M391 622.5h1M392 623.5h2M394 624.5h1M395 625.5h1M395 625.5h2M397 624.5h2M399 623.5h1M399 623.5h1M400 622.5h2M402 621.5h1M403 620.5h1M403 620.5h2M405 619.5h2M407 618.5h1M407.5 617v2M408.5 615v2M409.5 612v3M410.5 610v2M411.5 608v2M411 608.5h2M413 607.5h2M415 606.5h1M415 606.5h1M416 607.5h1M417 608.5h1M418 609.5h1M419 610.5h1M419 610.5h1M420 609.5h2M422 608.5h1M423 607.5h1M423 607.5h5M427 607.5h3M430 606.5h2M431.5 606v2M432.5 608v3M433.5 611v4M434.5 615v3M435.5 618v2M435 619.5h1M436 618.5h2M438 617.5h1M439 616.5h1M439 616.5h1M440 617.5h2M442 618.5h1M443 619.5h1M443 619.5h1M444 618.5h2M446 617.5h1M447 616.5h1M447 616.5h3M450 615.5h2M451 615.5h2M453 616.5h2M455 617.5h1M455 617.5h3M458 618.5h2M459 618.5h1M460 619.5h1M461 620.5h1M462 621.5h1M463 622.5h1M463 622.5h1M464 621.5h1M465 620.5h1M466 619.5h1M467 618.5h1M467 618.5h2M469 617.5h2M471 616.5h1M471 616.5h3M474 615.5h2M475 615.5h2M477 616.5h2M479 617.5h1M479 617.5h1M480 616.5h2M482 615.5h1M483 614.5h1M483 614.5h3M486 613.5h2M487 613.5h1M488 612.5h1M489 611.5h1M490 610.5h1M491 609.5h1M491 609.5h1M492 610.5h1M493 611.5h1M494 612.5h1M495 613.5h1M495 613.5h5M499 613.5h1M500 614.5h1M501 615.5h1M502 616.5h1M503 617.5h1M503.5 617v1M504.5 618v2M505.5 620v2M506.5 622v2M507.5 624v1M507.5 623v2M508.5 621v2M509.5 618v3M510.5 616v2M511.5 614v2M511 614.5h1M512 613.5h2M514 612.5h1M515 611.5h1M515 611.5h5M519 611.5h3M522 612.5h2M523 612.5h3M526 613.5h2M527.5 613v1M528.5 614v1M529.5 615v2M530.5 617v1M531.5 618v1M531 618.5h3M534 617.5h2M535 617.5h2M537 618.5h2M539 619.5h1M539 619.5h5M543 619.5h5M547 619.5h1M548 618.5h1M549 617.5h1M550 616.5h1M551 615.5h1M551.5 615v1M552.5 614v1M553.5 612v2M554.5 611v1M555.5 610v1M555.5 610v1M556.5 608v2M557.5 606v2M558.5 604v2M559.5 603v1M559 603.5h3M562 602.5h2M563.5 602v1M564.5 603v1M565.5 604v2M566.5 606v1M567.5 607v1M567 607.5h5M571 607.5h3M574 606.5h2M575.5 606v1M576.5 607v2M577.5 609v1M578.5 610v2M579.5 612v1M579 612.5h3M582 613.5h2M583 613.5h1M584 612.5h2M586 611.5h1M587 610.5h1M587 610.5h3M590 609.5h2M591.5 609v1M592.5 610v2M593.5 612v1M594.5 613v2M595.5 615v1M595.5 614v2M596.5 612v2M597.5 609v3M598.5 607v2M599.5 605v2M599 605.5h3M602 606.5h2M603 606.5h1M604 605.5h1M605 604.5h1M606 603.5h1M607 602.5h1M607 602.5h1M608 603.5h2M610 604.5h1M611 605.5h1M611 605.5h1M612 606.5h2M614 607.5h1M615 608.5h1M615 608.5h3M618 609.5h2M619 609.5h3M622 608.5h2M623 608.5h3M626 609.5h2M627 609.5h1M628 610.5h1M629 611.5h1M630 612.5h1M631 613.5h1M631.5 612v2M632.5 608v4M633.5 605v3M634.5 601v4M635.5 599v2M635 599.5h2M637 598.5h2M639 597.5h1M639 597.5h1M640 598.5h2M642 599.5h1M643 600.5h1M643.5 600v1M644.5 599v1M645.5 597v2M646.5 596v1M647.5 595v1M647 595.5h5M651 595.5h2M653 594.5h2M655 593.5h1M655 593.5h5M659 593.5h1M660 594.5h1M661 595.5h1M662 596.5h1M663 597.5h1M663 597.5h1M664 596.5h2M666 595.5h1M667 594.5h1M667 594.5h2M669 595.5h2M671 596.5h1M671 596.5h2M673 595.5h2M675 594.5h1M675 594.5h1M676 593.5h2M678 592.5h1M679 591.5h1M679 591.5h1M680 592.5h1M681 593.5h1M682 594.5h1M683 595.5h1M683 595.5h2M685 594.5h2M687 593.5h1M687 593.5h3M690 592.5h2M691.5 592v2M692.5 594v2M693.5 596v2M694.5 598v2M695.5 600v2M695.5 601v1M696.5 602v2M697.5 604v2M698.5 606v2M699.5 608v1M699 608.5h2M701 609.5h2M703 610.5h1M703 610.5h2M705 611.5h2M707 612.5h1M707 612.5h2M709 611.5h2M711 610.5h1M711 610.5h3M714 609.5h2M715 609.5h3M718 608.5h2M719 608.5h2M721 609.5h2M723 610.5h1M723 610.5h1M724 611.5h2M726 612.5h1M727 613.5h1M727.5 613v2M728.5 615v2M729.5 617v2M730.5 619v2M731.5 621v2M731 622.5h1M732 621.5h2M734 620.5h1M735 619.5h1M735 619.5h3M738 620.5h2M739 620.5h1M740 621.5h1M741 622.5h1M742 623.5h1M743 624.5h1M743 624.5h1M744 625.5h1M745 626.5h1M746 627.5h1M747 628.5h1M747.5 628v1M748.5 627v1M749.5 625v2M750.5 624v1M751.5 623v1M751 623.5h1M752 622.5h2M754 621.5h1M755 620.5h1M755 620.5h5M759 620.5h3M762 619.5h2M763 619.5h1M764 620.5h2M766 621.5h1M767 622.5h1M767 622.5h3M770 621.5h2M771.5 621v1M772.5 619v2M773.5 617v2M774.5 615v2M775.5 614v1M775 614.5h1M776 615.5h2M778 616.5h1M779 617.5h1M779 617.5h3M782 618.5h2M783 618.5h2M785 619.5h2M787 620.5h1M787 620.5h3M790 619.5h2M791.5 619v1M792.5 620v2M793.5 622v1M794.5 623v2M795.5 625v1M795 625.5h1M796 624.5h1M797 623.5h1M798 622.5h1M799 621.5h1M799 621.5h1M800 620.5h2M802 619.5h1M803 618.5h1M803 618.5h5M807 618.5h2M809 619.5h2M811 620.5h1M811 620.5h1M812 619.5h2M814 618.5h1M815 617.5h1M815 617.5h1M816 616.5h1M817 615.5h1M818 614.5h1M819 613.5h1M819 613.5h2M821 614.5h2M823 615.5h1M823 615.5h1M824 614.5h2M826 613.5h1M827 612.5h1M827 612.5h3M830 613.5h2M831 613.5h5M835.5 613v1M836.5 612v1M837.5 610v2M838.5 609v1M839.5 608v1M839 608.5h3M842 607.5h2M843 607.5h3M846 606.5h2M847 606.5h2M849 605.5h2M851 604.5h1M851 604.5h5M855 604.5h5M859 604.5h3M862 603.5h2M863.5 603v2M864.5 605v2M865.5 607v3M866.5 610v2M867.5 612v2M867.5 613v1M868.5 611v2M869.5 610v1M870.5 608v2M871.5 607v1M871 607.5h2M873 608.5h2M875 609.5h1M875 609.5h3M878 608.5h2M879 608.5h5M883 608.5h3M886 607.5h2M887.5 607v2M888.5 609v2M889.5 611v2M890.5 613v2M891.5 615v2M891.5 616v1M892.5 614v2M893.5 613v1M894.5 611v2M895.5 610v1M895.5 610v1M896.5 609v1M897.5 607v2M898.5 606v1M899.5 605v1M899 605.5h5M903 605.5h3M906 606.5h2M907 606.5h3M910 607.5h2M911.5 607v2M912.5 609v4M913.5 613v3M914.5 616v4M915.5 620v2M915 621.5h1M916 622.5h2M918 623.5h1M919 624.5h1M919 624.5h1M920 625.5h1M921 626.5h1M922 627.5h1M923 628.5h1" fill="none" stroke="#1e90ff" stroke-width="1" clip-path="url(#cr)"/>
<rect x="1166" y="53" width="2" height="1" fill="#000"/>
<rect x="1166" y="86" width="2" height="1" fill="#000"/>
<rect x="1166" y="119" width="2" height="1" fill="#000"/>
<rect x="1166" y="152" width="2" height="1" fill="#000"/>
<rect x="1166" y="185" width="2" height="1" fill="#000"/>
<rect x="1166" y="218" width="2" height="1" fill="#000"/>
<rect x="1166" y="251" width="2" height="1" fill="#000"/>
<rect x="1166" y="284" width="2" height="1" fill="#000"/>
<rect x="1166" y="317" width="2" height="1" fill="#000"/>
<rect x="1166" y="350" width="2" height="1" fill="#000"/>
<rect x="1166" y="383" width="2" height="1" fill="#000"/>
<rect x="1166" y="416" width="2" height="1" fill="#000"/>
<rect x="1166" y="449" width="2" height="1" fill="#000"/>
<rect x="1166" y="482" width="2" height="1" fill="#000"/>
<rect x="1166" y="488" width="2" height="1" fill="#000"/>
<rect x="1166" y="537" width="2" height="1" fill="#000"/>
<rect x="1166" y="570" width="2" height="1" fill="#000"/>
<rect x="1166" y="574" width="2" height="1" fill="#000"/>
<rect x="1166" y="600" width="2" height="1" fill="#000"/>
<rect x="1166" y="634" width="2" height="1" fill="#000"/>
<rect x="1166" y="659" width="2" height="1" fill="#000"/>
<rect x="3" y="661" width="1" height="3" fill="#000"/>
<rect x="67" y="661" width="1" height="3" fill="#000"/>
<rect x="131" y="661" width="1" height="3" fill="#000"/>
<rect x="195" y="661" width="1" height="3" fill="#000"/>
<rect x="259" y="661" width="1" height="3" fill="#000"/>
<rect x="323" y="661" width="1" height="3" fill="#000"/>
<rect x="387" y="661" width="1" height="3" fill="#000"/>
<rect x="451" y="661" width="1" height="3" fill="#000"/>
<rect x="515" y="661" width="1" height="3" fill="#000"/>
<rect x="579" y="661" width="1" height="3" fill="#000"/>
<rect x="643" y="661" width="1" height="3" fill="#000"/>
<rect x="707" y="661" width="1" height="3" fill="#000"/>
<rect x="771" y="661" width="1" height="3" fill="#000"/>
<rect x="835" y="661" width="1" height="3" fill="#000"/>
<rect x="899" y="661" width="1" height="3" fill="#000"/>
</g>
<g class="ct">
<text x="1171.4" y="56.8" textLength="32.4" lengthAdjust="spacingAndGlyphs">1.24800</text>
<text x="1171.4" y="89.8" textLength="32.4" lengthAdjust="spacingAndGlyphs">1.24430</text>
<text x="1171.4" y="122.8" textLength="32.4" lengthAdjust="spacingAndGlyphs">1.24060</text>
<text x="1171.4" y="155.8" textLength="32.4" lengthAdjust="spacingAndGlyphs">1.23680</text>
<text x="1171.4" y="188.8" textLength="32.4" lengthAdjust="spacingAndGlyphs">1.23310</text>
<text x="1171.4" y="221.8" textLength="32.4" lengthAdjust="spacingAndGlyphs">1.22940</text>
<text x="1171.4" y="254.8" textLength="32.4" lengthAdjust="spacingAndGlyphs">1.22570</text>
<text x="1171.4" y="287.8" textLength="32.4" lengthAdjust="spacingAndGlyphs">1.22200</text>
<text x="1171.4" y="320.8" textLength="32.4" lengthAdjust="spacingAndGlyphs">1.21820</text>
<text x="1171.4" y="353.8" textLength="32.4" lengthAdjust="spacingAndGlyphs">1.21450</text>
<text x="1171.4" y="386.8" textLength="32.4" lengthAdjust="spacingAndGlyphs">1.21080</text>
<text x="1171.4" y="419.8" textLength="32.4" lengthAdjust="spacingAndGlyphs">1.20700</text>
<text x="1171.4" y="452.8" textLength="32.4" lengthAdjust="spacingAndGlyphs">1.20330</text>
<text x="1171.4" y="485.8" textLength="32.4" lengthAdjust="spacingAndGlyphs">1.19960</text>
<text x="2.5" y="672.5" textLength="53.4" lengthAdjust="spacingAndGlyphs">11 May 2021</text>
<text x="66.5" y="672.5" textLength="56.7" lengthAdjust="spacingAndGlyphs">14 May 10:00</text>
<text x="130.5" y="672.5" textLength="56.7" lengthAdjust="spacingAndGlyphs">19 May 00:00</text>
<text x="194.5" y="672.5" textLength="56.7" lengthAdjust="spacingAndGlyphs">21 May 18:00</text>
<text x="258.5" y="672.5" textLength="56.7" lengthAdjust="spacingAndGlyphs">26 May 10:00</text>
<text x="322.5" y="672.5" textLength="56.7" lengthAdjust="spacingAndGlyphs">29 May 00:00</text>
<text x="386.5" y="672.5" textLength="48.9" lengthAdjust="spacingAndGlyphs">2 Jun 18:00</text>
<text x="450.5" y="672.5" textLength="48.2" lengthAdjust="spacingAndGlyphs">7 Jun 11:00</text>
<text x="514.5" y="672.5" textLength="54.1" lengthAdjust="spacingAndGlyphs">10 Jun 00:00</text>
<text x="578.5" y="672.5" textLength="54.1" lengthAdjust="spacingAndGlyphs">14 Jun 19:00</text>
<text x="642.5" y="672.5" textLength="54.1" lengthAdjust="spacingAndGlyphs">17 Jun 10:00</text>
<text x="706.5" y="672.5" textLength="54.1" lengthAdjust="spacingAndGlyphs">22 Jun 00:00</text>
<text x="770.5" y="672.5" textLength="54.1" lengthAdjust="spacingAndGlyphs">24 Jun 18:00</text>
<text x="834.5" y="672.5" textLength="54.1" lengthAdjust="spacingAndGlyphs">29 Jun 10:00</text>
<text x="898.5" y="672.5" textLength="45.8" lengthAdjust="spacingAndGlyphs">2 Jul 00:00</text>
<rect x="1167" y="42.0" width="39" height="11" fill="#ff0000"/><text x="1171.6" y="50.8" textLength="32.4" lengthAdjust="spacingAndGlyphs" style="fill:#fff;stroke:#fff">1.24852</text><rect x="1167" y="126.0" width="39" height="11" fill="#ff0000"/><text x="1171.6" y="134.8" textLength="32.4" lengthAdjust="spacingAndGlyphs" style="fill:#fff;stroke:#fff">1.23906</text><rect x="1167" y="193" width="39" height="11" fill="#000000"/><text x="1171.6" y="201.8" textLength="32.4" lengthAdjust="spacingAndGlyphs" style="fill:#fff;stroke:#fff">1.23166</text><rect x="1167" y="206" width="39" height="11" fill="#00ff00"/><text x="1171.6" y="214.8" textLength="32.4" lengthAdjust="spacingAndGlyphs" style="fill:#fff;stroke:#fff">1.23005</text><rect x="1167" y="277" width="39" height="11" fill="#0000ff"/><text x="1171.6" y="285.8" textLength="32.4" lengthAdjust="spacingAndGlyphs" style="fill:#fff;stroke:#fff">1.22205</text><rect x="1167" y="348" width="39" height="11" fill="#0000ff"/><text x="1171.6" y="356.8" textLength="32.4" lengthAdjust="spacingAndGlyphs" style="fill:#fff;stroke:#fff">1.21406</text>
<text x="18.3" y="36.8" textLength="55.5" lengthAdjust="spacingAndGlyphs">USDCAD,H4</text>
<text x="80.7" y="36.8" textLength="140.2" lengthAdjust="spacingAndGlyphs">1.23449 1.23515 1.23083 1.23166</text>
<text x="7.7" y="499.7" textLength="146.9" lengthAdjust="spacingAndGlyphs">MACD(12,26,9) 0.000538 0.001840</text>
<text x="7.5" y="586.1" textLength="67.5" lengthAdjust="spacingAndGlyphs">RSI(14) 37.7118</text>
<text x="1169.2" y="497.8" textLength="37.4" lengthAdjust="spacingAndGlyphs">0.007948</text>
<text x="1169.2" y="540.6" textLength="17.4" lengthAdjust="spacingAndGlyphs">0.00</text>
<text x="1169.2" y="567.9" textLength="40.4" lengthAdjust="spacingAndGlyphs">-0.005422</text>
<text x="1169.6" y="583.8" textLength="15.0" lengthAdjust="spacingAndGlyphs">100</text>
<text x="1168.3" y="603.8" textLength="10.0" lengthAdjust="spacingAndGlyphs">70</text>
<text x="1168.3" y="637.6" textLength="10.0" lengthAdjust="spacingAndGlyphs">30</text>
<text x="1169.6" y="656.3" textLength="5.0" lengthAdjust="spacingAndGlyphs">0</text>
</g>
<path d="M6,35.5 L9.5,31.5 L13,35.5 Z" fill="#000"/>

<defs>
<linearGradient id="gt" x1="0" y1="0" x2="0" y2="1"><stop offset="0" stop-color="#f85a5a"/><stop offset="1" stop-color="#e22e2e"/></linearGradient>
<linearGradient id="gb" x1="0" y1="0" x2="0" y2="1"><stop offset="0" stop-color="#d62424"/><stop offset="1" stop-color="#b00000"/></linearGradient>
<linearGradient id="gs" x1="0" y1="0" x2="0" y2="1"><stop offset="0" stop-color="#f2f2f2"/><stop offset="0.45" stop-color="#e6e6e6"/><stop offset="0.5" stop-color="#d9d9d9"/><stop offset="1" stop-color="#d2d2d2"/></linearGradient>
</defs>
<g shape-rendering="crispEdges">
<rect x="4" y="40" width="223" height="64" fill="#fff"/>
<rect x="6" y="45" width="52" height="25" fill="url(#gt)"/>
<rect x="6" y="69" width="109" height="33" fill="url(#gb)"/>
<path d="M6.5,101.5 V45.5 H57.5 V69.5 H114.5 V101.5 Z" fill="none" stroke="#b40000"/>
<rect x="10" y="68" width="45" height="1" fill="#8a0000"/>
<rect x="10" y="69" width="45" height="1" fill="#f06060"/>
<rect x="173" y="45" width="52" height="25" fill="url(#gt)"/>
<rect x="117" y="69" width="108" height="33" fill="url(#gb)"/>
<path d="M224.5,101.5 V45.5 H173.5 V69.5 H117.5 V101.5 Z" fill="none" stroke="#b40000"/>
<rect x="177" y="68" width="45" height="1" fill="#8a0000"/>
<rect x="177" y="69" width="45" height="1" fill="#f06060"/>
<rect x="60.5" y="45.5" width="110" height="21" fill="#fff" stroke="#a9acb3"/>
<rect x="62" y="47" width="18" height="18" fill="url(#gs)"/>
<rect x="81" y="46" width="1" height="20" fill="#a9acb3"/>
<rect x="149" y="46" width="1" height="20" fill="#a9acb3"/>
<rect x="151" y="47" width="18" height="18" fill="url(#gs)"/>
</g>
<path d="M68,54 L74,54 L71,57.5 Z" fill="#4a62c8"/>
<path d="M157,57 L163,57 L160,53.5 Z" fill="#4a62c8"/>
<g font-family="Liberation Sans, Arial, sans-serif" fill="#fff">
<text x="18.2" y="61" font-size="12" fill="#ffeaea" textLength="26" lengthAdjust="spacingAndGlyphs">SELL</text>
<text x="186.6" y="60.7" font-size="12" fill="#ffeaea" textLength="23.2" lengthAdjust="spacingAndGlyphs">BUY</text>
<text x="26.2" y="96.5" font-size="12" font-weight="bold" textLength="23.3" lengthAdjust="spacingAndGlyphs">1.23</text>
<text x="137.2" y="96.5" font-size="12" font-weight="bold" textLength="23.3" lengthAdjust="spacingAndGlyphs">1.23</text>
<text x="93" y="81" font-size="12" font-weight="bold">9</text>
<text x="203.6" y="81" font-size="12" font-weight="bold">4</text>
<text x="145.3" y="59.5" font-size="12.5" fill="#000" text-anchor="end">3.00</text>
</g>
<g font-family="DejaVu Sans, Liberation Sans, sans-serif" fill="#fff" font-size="32.6">
<text x="53.5" y="97" textLength="36" lengthAdjust="spacingAndGlyphs">16</text>
<text x="164.5" y="97" textLength="36" lengthAdjust="spacingAndGlyphs">18</text>
</g>

<g font-family="Liberation Sans, Arial, sans-serif" font-size="9.6" fill="#404040">
<rect x="68" y="0" width="25" height="19" fill="#f7f7f7"/>
<text x="-13.5" y="12.9">M15</text>
<text x="14.8" y="12.9" textLength="17.4" lengthAdjust="spacingAndGlyphs">M30</text>
<text x="45.4" y="12.9" textLength="11.8" lengthAdjust="spacingAndGlyphs">H1</text>
<text x="72.5" y="12.9" textLength="12.5" lengthAdjust="spacingAndGlyphs">H4</text>
<text x="101.6" y="12.9" textLength="11.4" lengthAdjust="spacingAndGlyphs">D1</text>
<text x="129" y="12.9" textLength="14.4" lengthAdjust="spacingAndGlyphs">W1</text>
<text x="155.8" y="12.9" textLength="14.5" lengthAdjust="spacingAndGlyphs">MN</text>
</g>
<g shape-rendering="crispEdges">
<rect x="0" y="681" width="1206" height="1" fill="#e3e3e3"/>
<rect x="0" y="682" width="1206" height="1" fill="#ffffff"/>
<rect x="0" y="703" width="1206" height="1" fill="#f6f6f6"/>
<rect x="0" y="683" width="289" height="1" fill="#1a1a1a"/>
<rect x="380" y="683" width="826" height="1" fill="#1a1a1a"/>
<rect x="289" y="683" width="91" height="18" fill="#fff"/>
<rect x="288" y="683" width="1" height="18" fill="#1a1a1a"/>
<rect x="380" y="683" width="1" height="18" fill="#1a1a1a"/>
<rect x="288" y="700" width="93" height="1" fill="#1a1a1a"/>
<rect x="96" y="687" width="1" height="13" fill="#505050"/>
<rect x="200" y="687" width="1" height="13" fill="#505050"/>
<rect x="485" y="687" width="1" height="13" fill="#505050"/>
<rect x="560" y="687" width="1" height="13" fill="#505050"/>
<rect x="629" y="687" width="1" height="13" fill="#505050"/>
<rect x="705" y="687" width="1" height="13" fill="#505050"/>
<rect x="797" y="687" width="1" height="13" fill="#505050"/>
<rect x="901" y="687" width="1" height="13" fill="#505050"/>
</g><g font-family="Liberation Sans, Arial, sans-serif" font-size="12" fill="#6e6e6e">
<text x="16.2" y="697.8" textLength="67.9" lengthAdjust="spacingAndGlyphs">EURUSD,H4</text>
<text x="107" y="697.8" textLength="82.0" lengthAdjust="spacingAndGlyphs">AUDUSD,Daily</text>
<text x="210.2" y="697.8" textLength="66.4" lengthAdjust="spacingAndGlyphs">USDCHF,H4</text>
<text x="299.4" y="697.8" textLength="68.1" lengthAdjust="spacingAndGlyphs" fill="#000">USDCAD,H4</text>
<text x="390.4" y="697.8" textLength="82.1" lengthAdjust="spacingAndGlyphs">USDCNH,Daily</text>
<text x="496.4" y="697.8" textLength="50.8" lengthAdjust="spacingAndGlyphs">UKOil,H1</text>
<text x="570.3" y="697.8" textLength="46.0" lengthAdjust="spacingAndGlyphs">DJ30,H1</text>
<text x="640.4" y="697.8" textLength="51.2" lengthAdjust="spacingAndGlyphs">USDX,H1</text>
<text x="715" y="697.8" textLength="69.2" lengthAdjust="spacingAndGlyphs">XAUUSD,H4</text>
<text x="808.6" y="697.8" textLength="79.6" lengthAdjust="spacingAndGlyphs">GBPUSD,Daily</text>
</g>
<path d="M1184.5,689 L1181,692 L1184.5,695 Z" fill="#8c8c8c"/><path d="M1200,689 L1203.5,692 L1200,695 Z" fill="#8c8c8c"/>
</svg>
</body></html>
